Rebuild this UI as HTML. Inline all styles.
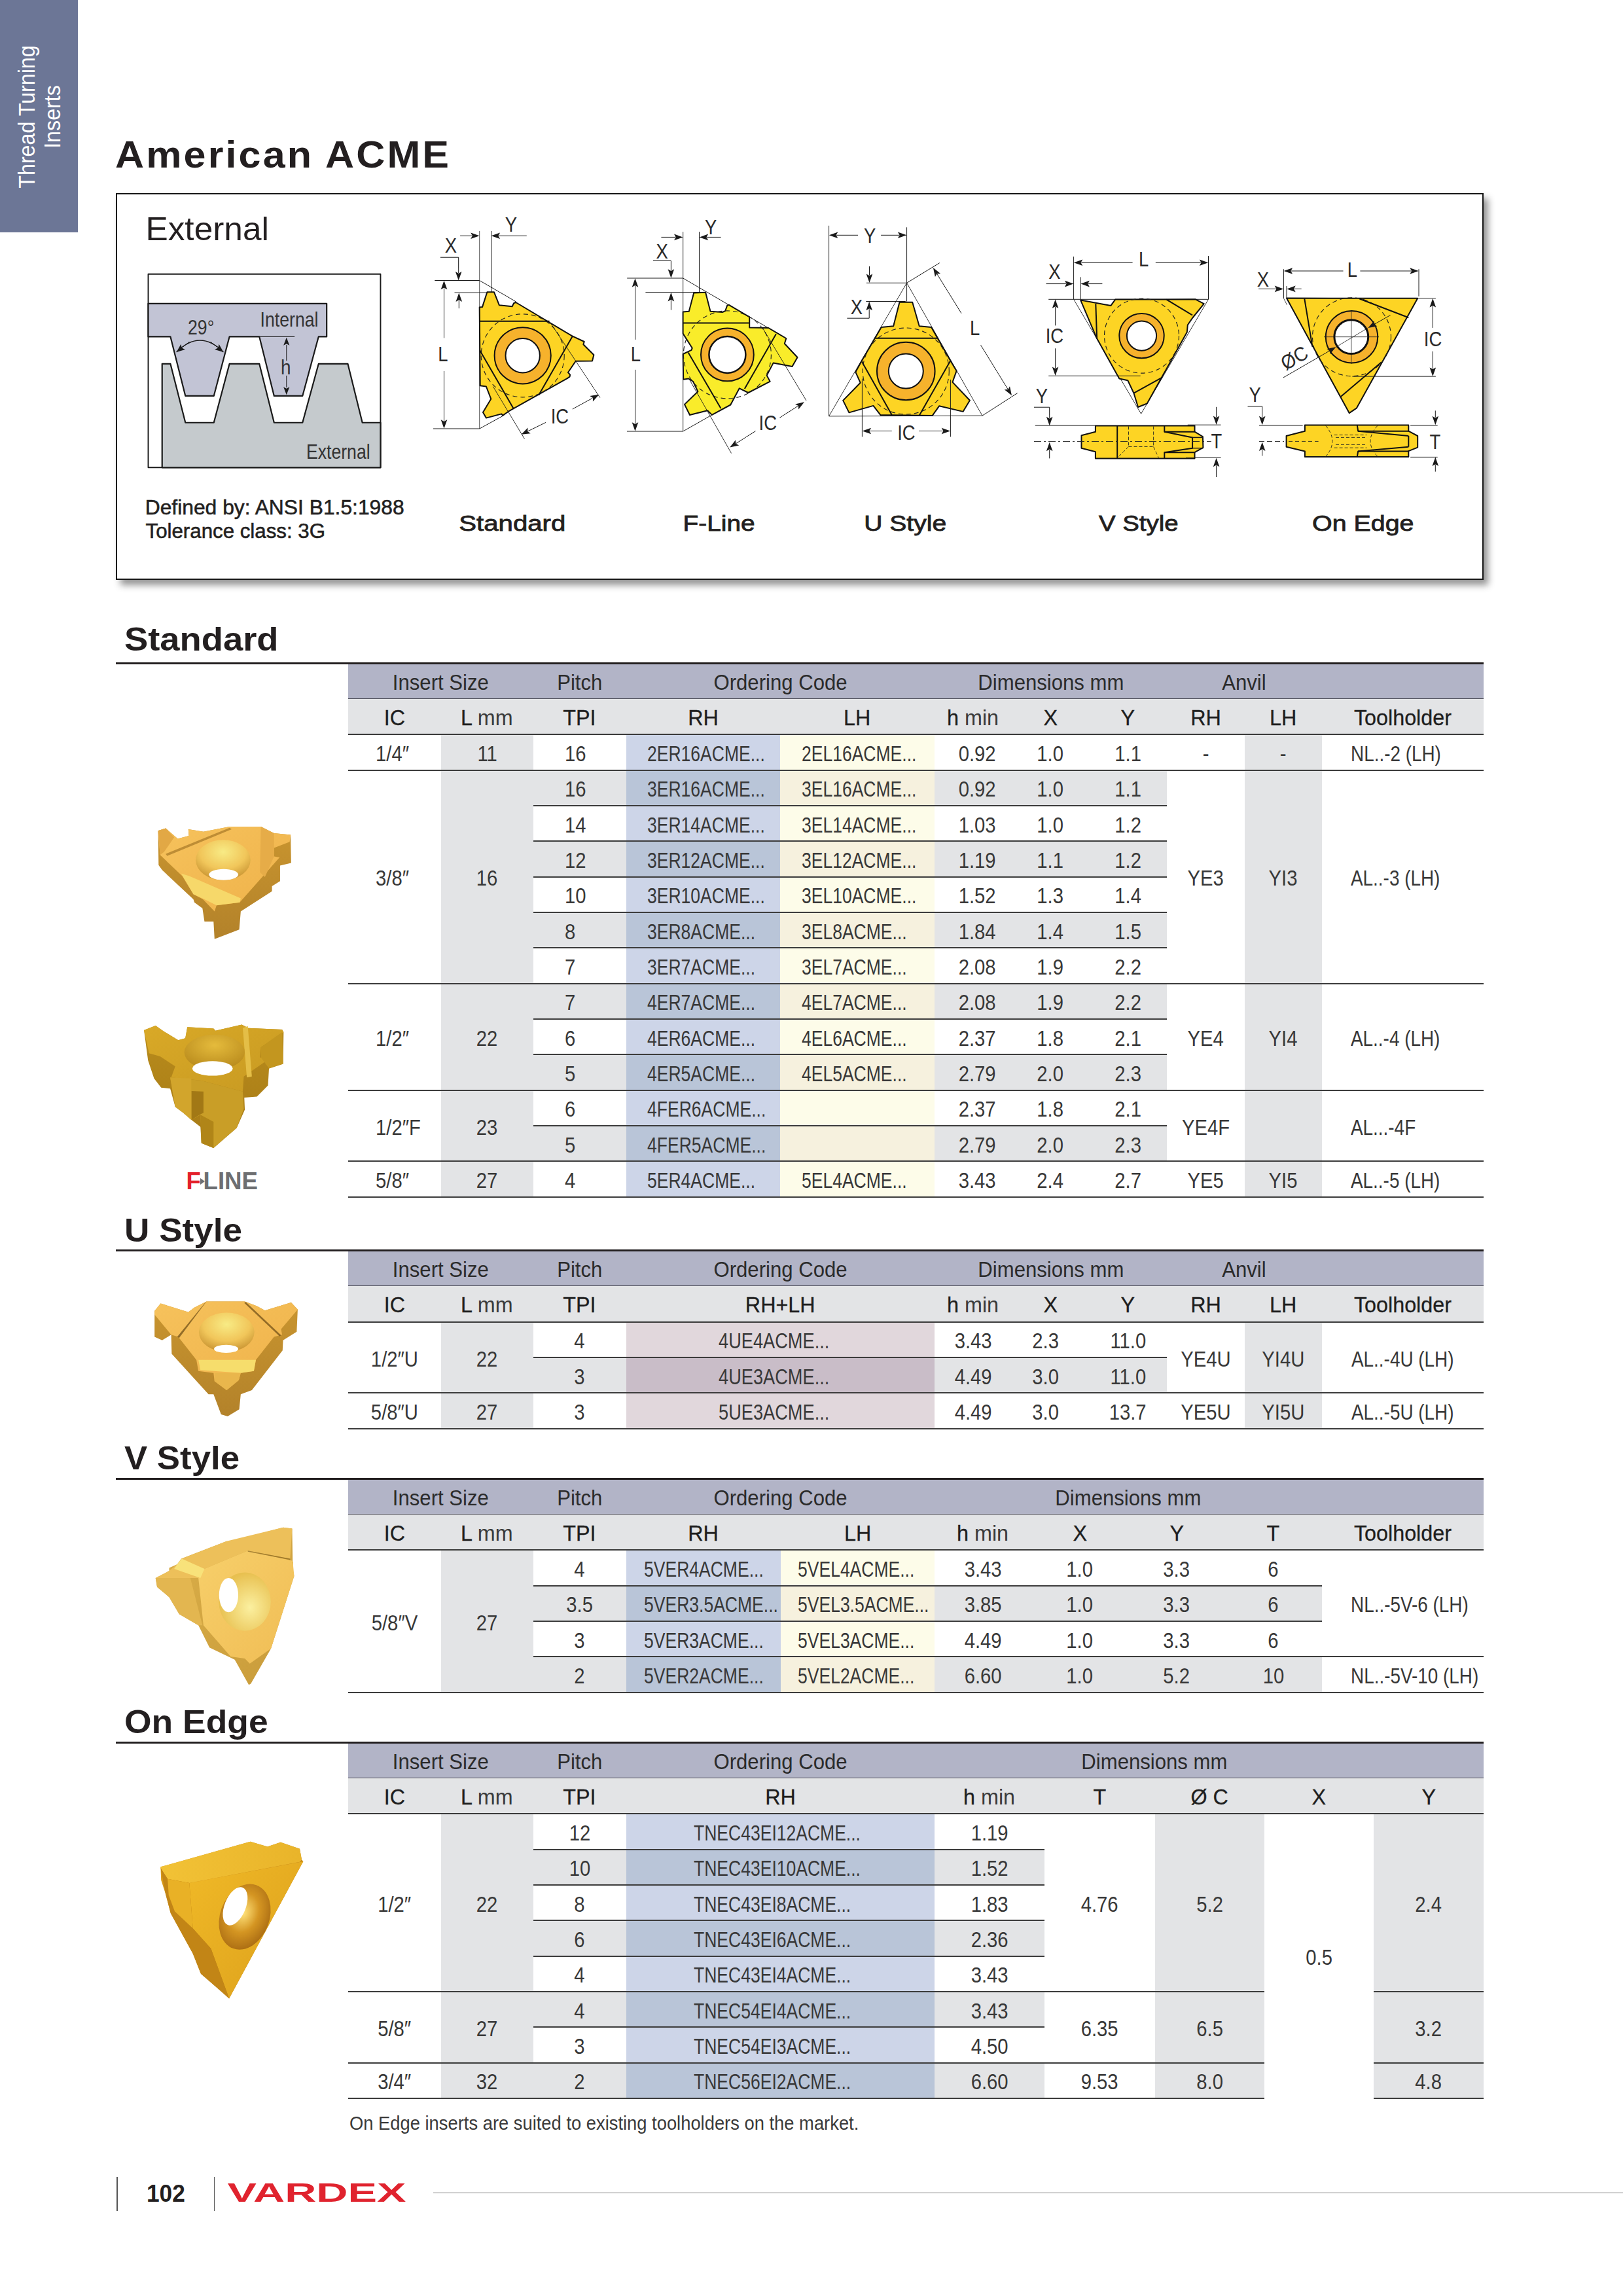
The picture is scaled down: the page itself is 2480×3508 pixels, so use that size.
<!DOCTYPE html><html><head><meta charset="utf-8"><style>
html,body{margin:0;padding:0;background:#fff}
#pg{position:relative;width:2480px;height:3508px;overflow:hidden;background:#fff;font-family:"Liberation Sans",Arial,sans-serif}
.t{position:absolute;white-space:nowrap;line-height:1}
.t span{display:inline-block}
.h2 span{-webkit-text-stroke:0.3px #1e1e1e}
.h2 span span,.h2 span i{-webkit-text-stroke:0;font-style:normal;color:#3a3a3a}
</style></head><body><div id="pg">
<div style="position:absolute;left:0.00px;top:0.00px;width:119.00px;height:355.00px;background:#6c7696"></div>
<div class="t" style="left:0;top:0;width:355px;height:119px;transform:translate(0,355px) rotate(-90deg);transform-origin:0 0;color:#fff;text-align:center;font-size:35px;line-height:38.4px;white-space:normal"><div style="position:absolute;left:-1px;width:355px;top:22.3px;transform:scaleX(0.92)">Thread Turning<br>Inserts</div></div>
<div class="t" style="left:176.4px;top:209.37px;font-size:56.5px;font-weight:700;color:#231f20;letter-spacing:2.9px"><span style="transform:scaleX(1.08);transform-origin:0 50%">American ACME</span></div>
<div style="position:absolute;left:177px;top:295px;width:2086px;height:587px;border:2px solid #161616;box-shadow:7px 8px 10px rgba(0,0,0,0.42);background:#fff"></div>
<svg style="position:absolute;left:0;top:0" width="2480" height="900" viewBox="0 0 2480 900">
<g transform="translate(170,280) scale(0.326552)">
<polygon points="173,425 1260,425 1260,1330 173,1330" fill="#fff" stroke="#1a1a1a" stroke-width="5.82" stroke-linejoin="round"/>
<polygon points="173,563 1008,563 1008,718 970,718 895,995 762,995 693,718 553,718 480,995 347,995 277,718 173,718" fill="#c2c4d5" stroke="#1a1a1a" stroke-width="6.74" stroke-linejoin="round"/>
<polygon points="238,1330 238,845 277,845 347,1120 480,1120 553,845 693,845 762,1120 895,1120 970,845 1107,845 1175,1120 1260,1120 1260,1330" fill="#c5cacd" stroke="#1a1a1a" stroke-width="6.74" stroke-linejoin="round"/>
<text transform="translate(833,670) scale(0.86,1)" x="0" y="0" font-size="94.9" text-anchor="middle" fill="#333" font-weight="400" font-family="Liberation Sans, Arial, sans-serif" >Internal</text>
<text transform="translate(1062,1290) scale(0.86,1)" x="0" y="0" font-size="94.9" text-anchor="middle" fill="#333" font-weight="400" font-family="Liberation Sans, Arial, sans-serif" >External</text>
<text transform="translate(420,707) scale(0.86,1)" x="0" y="0" font-size="94.9" text-anchor="middle" fill="#333" font-weight="400" font-family="Liberation Sans, Arial, sans-serif" >29°</text>
<path d="M305,790 Q415,680 525,790" fill="none" stroke="#1a1a1a" stroke-width="4"/>
<line x1="365" y1="742" x2="334.52457159816004" y2="766.380342721472" stroke="#1a1a1a" stroke-width="3.06"/>
<polygon points="305,790 326.1,752.7 329.9,770.1 346.0,777.6" fill="#1a1a1a"/>
<line x1="465" y1="742" x2="495.47542840183996" y2="766.380342721472" stroke="#1a1a1a" stroke-width="3.06"/>
<polygon points="525,790 484.0,777.6 500.1,770.1 503.9,752.7" fill="#1a1a1a"/>
<line x1="693" y1="718" x2="858" y2="718" stroke="#1a1a1a" stroke-width="3.06"/>
<line x1="820" y1="830" x2="820.0" y2="756.7476" stroke="#1a1a1a" stroke-width="3.06"/>
<polygon points="820,722 834.1,758.7 820.0,751.4 805.9,758.7" fill="#1a1a1a"/>
<line x1="820" y1="900" x2="820.0" y2="955.2524" stroke="#1a1a1a" stroke-width="3.06"/>
<polygon points="820,990 805.9,953.3 820.0,960.6 834.1,953.3" fill="#1a1a1a"/>
<text transform="translate(817,895) scale(0.9,1)" x="0" y="0" font-size="94.9" text-anchor="middle" fill="#333" font-weight="400" font-family="Liberation Sans, Arial, sans-serif" >h</text>
</g>
<g transform="translate(0,0) scale(1.000000)">
<line x1="732.7" y1="352.9" x2="732.7" y2="655" stroke="#555" stroke-width="1.00"/>
<line x1="750.6" y1="352.9" x2="750.6" y2="446.5" stroke="#1a1a1a" stroke-width="1.00"/>
<line x1="703.1" y1="360.3" x2="721.2" y2="360.3" stroke="#1a1a1a" stroke-width="1.00"/>
<polygon points="732.7,360.3 719.2,365.1 721.9,360.3 719.2,355.5" fill="#1a1a1a"/>
<line x1="804.8" y1="360.3" x2="762.1" y2="360.3" stroke="#1a1a1a" stroke-width="1.00"/>
<polygon points="750.6,360.3 764.1,355.5 761.4,360.3 764.1,365.1" fill="#1a1a1a"/>
<text transform="translate(689,385.6) scale(0.9,1)" x="0" y="0" font-size="30.5" text-anchor="middle" fill="#2a2a2a" font-weight="400" font-family="Liberation Sans, Arial, sans-serif" >X</text>
<text transform="translate(781,353.5) scale(0.9,1)" x="0" y="0" font-size="30.5" text-anchor="middle" fill="#2a2a2a" font-weight="400" font-family="Liberation Sans, Arial, sans-serif" >Y</text>
<polyline points="672.9,393.2 700.7,393.2 700.7,410" fill="none" stroke="#111" stroke-width="1.00" stroke-linejoin="round"/>
<line x1="700.7" y1="410" x2="700.7" y2="417.0" stroke="#1a1a1a" stroke-width="1.00"/>
<polygon points="700.7,428.5 695.9,415.0 700.7,417.7 705.5,415.0" fill="#1a1a1a"/>
<line x1="664.3" y1="428.5" x2="732.7" y2="428.5" stroke="#1a1a1a" stroke-width="1.00"/>
<line x1="694.5" y1="447.2" x2="745" y2="447.2" stroke="#1a1a1a" stroke-width="1.00"/>
<line x1="701.3" y1="471.2" x2="701.3" y2="458.9" stroke="#1a1a1a" stroke-width="1.00"/>
<polygon points="701.3,447.4 706.1,460.9 701.3,458.2 696.5,460.9" fill="#1a1a1a"/>
<line x1="678.5" y1="516.4" x2="678.5" y2="440.2" stroke="#1a1a1a" stroke-width="1.00"/>
<polygon points="678.5,428.7 683.3,442.2 678.5,439.5 673.7,442.2" fill="#1a1a1a"/>
<line x1="678.5" y1="567" x2="678.5" y2="643.3" stroke="#1a1a1a" stroke-width="1.00"/>
<polygon points="678.5,654.8 673.7,641.3 678.5,644.0 683.3,641.3" fill="#1a1a1a"/>
<text transform="translate(677,551.8) scale(0.9,1)" x="0" y="0" font-size="30.5" text-anchor="middle" fill="#2a2a2a" font-weight="400" font-family="Liberation Sans, Arial, sans-serif" >L</text>
<line x1="662" y1="655" x2="732.7" y2="655" stroke="#1a1a1a" stroke-width="1.00"/>
<line x1="732.7" y1="428.5" x2="788.5" y2="461" stroke="#1a1a1a" stroke-width="1.00"/>
<line x1="732.7" y1="655" x2="768.2" y2="635.5" stroke="#1a1a1a" stroke-width="1.00"/>
<polygon points="732.7,469.4 737,469.1 744.4,446.2 754.9,446.2 762.9,466.3 782.6,468.2 785.1,463.2 788.2,462 874.8,513.7 892.7,522 891.4,526.3 907.4,542.3 905,551.5 879.7,551.7 868,569 871.1,572.7 870.5,575.7 866.8,578.2 776.8,628.7 768.2,634.9 766.4,632.4 742.9,638.6 738,630 750.3,609.6 742.9,590.5 733.7,589.3" fill="#fdd424" stroke="#111" stroke-width="2.00" stroke-linejoin="round"/>
<circle cx="798.7" cy="543.3" r="63.5" fill="none" stroke="#222" stroke-width="1.15" stroke-dasharray="7 5"/>
<line x1="733" y1="490.8" x2="839.5" y2="490.8" stroke="#111" stroke-width="2.00"/>
<line x1="874.8" y1="513.7" x2="823" y2="604.1" stroke="#111" stroke-width="2.00"/>
<line x1="733.3" y1="535.5" x2="784.8" y2="624.4" stroke="#111" stroke-width="2.00"/>
<circle cx="798.7" cy="543.3" r="43.1" fill="#f6b22c" stroke="#111" stroke-width="2.00"/>
<circle cx="798.7" cy="543.3" r="26.2" fill="#fff" stroke="#111" stroke-width="2.00"/>
<line x1="840.9" y1="493" x2="916.8" y2="607.5" stroke="#1a1a1a" stroke-width="0.90"/>
<line x1="753.4" y1="590.5" x2="801.5" y2="670.6" stroke="#1a1a1a" stroke-width="0.90"/>
<line x1="834.1" y1="645.4" x2="806.8294923035494" y2="658.7451420642205" stroke="#1a1a1a" stroke-width="1.00"/>
<polygon points="796.5,663.8 806.5,653.6 806.2,659.1 810.7,662.2" fill="#1a1a1a"/>
<line x1="874.8" y1="625" x2="905.4042009114846" y2="608.3067995028265" stroke="#1a1a1a" stroke-width="1.00"/>
<polygon points="915.5,602.8 905.9,613.5 906.0,608.0 901.3,605.1" fill="#1a1a1a"/>
<text transform="translate(855.4,646.6) scale(0.9,1)" x="0" y="0" font-size="30.5" text-anchor="middle" fill="#2a2a2a" font-weight="400" font-family="Liberation Sans, Arial, sans-serif" >IC</text>
<g transform="translate(0,0) scale(1.000000)">
<line x1="1043.7" y1="354.2" x2="1043.7" y2="659" stroke="#333" stroke-width="1.00"/>
<line x1="1068.5" y1="354.2" x2="1068.5" y2="446.6" stroke="#1a1a1a" stroke-width="1.00"/>
<line x1="1010.4" y1="362.4" x2="1032.0" y2="362.4" stroke="#1a1a1a" stroke-width="1.00"/>
<polygon points="1043.5,362.4 1030.0,367.2 1032.7,362.4 1030.0,357.6" fill="#1a1a1a"/>
<line x1="1101.6" y1="362.4" x2="1080.2" y2="362.4" stroke="#1a1a1a" stroke-width="1.00"/>
<polygon points="1068.7,362.4 1082.2,357.6 1079.5,362.4 1082.2,367.2" fill="#1a1a1a"/>
<text transform="translate(1011.6,394.8) scale(0.9,1)" x="0" y="0" font-size="30.5" text-anchor="middle" fill="#2a2a2a" font-weight="400" font-family="Liberation Sans, Arial, sans-serif" >X</text>
<text transform="translate(1086.2,357.9) scale(0.9,1)" x="0" y="0" font-size="30.5" text-anchor="middle" fill="#2a2a2a" font-weight="400" font-family="Liberation Sans, Arial, sans-serif" >Y</text>
<polyline points="998,398.5 1025.4,398.5 1025.4,410" fill="none" stroke="#111" stroke-width="1.00" stroke-linejoin="round"/>
<line x1="1025.4" y1="410" x2="1025.4" y2="413.3" stroke="#1a1a1a" stroke-width="1.00"/>
<polygon points="1025.4,424.8 1020.6,411.3 1025.4,414.0 1030.2,411.3" fill="#1a1a1a"/>
<line x1="958.2" y1="425" x2="1043.7" y2="425" stroke="#1a1a1a" stroke-width="1.00"/>
<line x1="986.4" y1="446.6" x2="1078.8" y2="446.6" stroke="#1a1a1a" stroke-width="1.00"/>
<line x1="1025.4" y1="473.7" x2="1025.4" y2="458.5" stroke="#1a1a1a" stroke-width="1.00"/>
<polygon points="1025.4,447 1030.2,460.5 1025.4,457.8 1020.6,460.5" fill="#1a1a1a"/>
<line x1="970.5" y1="518.9" x2="970.5" y2="436.7" stroke="#1a1a1a" stroke-width="1.00"/>
<polygon points="970.5,425.2 975.3,438.7 970.5,436.0 965.7,438.7" fill="#1a1a1a"/>
<line x1="970.5" y1="564.9" x2="970.5" y2="647.3" stroke="#1a1a1a" stroke-width="1.00"/>
<polygon points="970.5,658.8 965.7,645.3 970.5,648.0 975.3,645.3" fill="#1a1a1a"/>
<text transform="translate(971.5,552) scale(0.9,1)" x="0" y="0" font-size="30.5" text-anchor="middle" fill="#2a2a2a" font-weight="400" font-family="Liberation Sans, Arial, sans-serif" >L</text>
<line x1="958" y1="659" x2="1043.7" y2="659" stroke="#1a1a1a" stroke-width="1.00"/>
<line x1="1043.7" y1="425" x2="1201.3" y2="517" stroke="#1a1a1a" stroke-width="1.00"/>
<line x1="1043.7" y1="659" x2="1087.9" y2="633.9" stroke="#1a1a1a" stroke-width="1.00"/>
<polygon points="1043.6,476.4 1052.8,475.7 1060.2,447.4 1078.1,446.8 1085.5,475.7 1103.9,477 1108.2,475.1 1111.3,466.5 1113.8,465.9 1145.2,484.4 1145.2,500.4 1174.2,501 1201.3,517 1198.8,525 1218.5,546 1210.5,560.1 1181.6,554.6 1171.7,573.6 1176.6,582.8 1143.4,600 1129.8,593.3 1116.3,618.5 1087.9,633.9 1081.1,627.2 1054,634 1046,617.9 1066.4,598.2 1059,582.8 1052.2,578.5 1044.2,579.7 1043.6,541 1056.5,534.9 1057.7,531.8 1043.6,509.6" fill="#f9ec2a" stroke="#111" stroke-width="2.00" stroke-linejoin="round"/>
<circle cx="1111.4" cy="541.9" r="67" fill="none" stroke="#222" stroke-width="1.15" stroke-dasharray="7 5"/>
<line x1="1043.6" y1="493.6" x2="1144" y2="493.6" stroke="#111" stroke-width="2.00"/>
<line x1="1185.9" y1="510.2" x2="1137.8" y2="593.9" stroke="#111" stroke-width="2.00"/>
<line x1="1051.6" y1="538.6" x2="1101.5" y2="624.1" stroke="#111" stroke-width="2.00"/>
<circle cx="1111.4" cy="541.9" r="40.4" fill="#f6b22c" stroke="#111" stroke-width="2.00"/>
<circle cx="1111.4" cy="541.9" r="28" fill="#fff" stroke="#111" stroke-width="2.50"/>
<line x1="1165.6" y1="501.6" x2="1232" y2="612" stroke="#1a1a1a" stroke-width="0.90"/>
<line x1="1053.4" y1="579.7" x2="1117.5" y2="692.5" stroke="#1a1a1a" stroke-width="0.90"/>
<line x1="1154.5" y1="658.6" x2="1124.9031236195872" y2="677.4275295040795" stroke="#1a1a1a" stroke-width="1.00"/>
<polygon points="1115.2,683.6 1124.0,672.3 1124.3,677.8 1129.2,680.4" fill="#1a1a1a"/>
<line x1="1191.4" y1="638.2" x2="1219.3063945898577" y2="620.3874077086015" stroke="#1a1a1a" stroke-width="1.00"/>
<polygon points="1229,614.2 1220.2,625.5 1219.9,620.0 1215.0,617.4" fill="#1a1a1a"/>
<text transform="translate(1173.3,656.7) scale(0.9,1)" x="0" y="0" font-size="30.5" text-anchor="middle" fill="#2a2a2a" font-weight="400" font-family="Liberation Sans, Arial, sans-serif" >IC</text>
<g transform="translate(0,0) scale(1.000000)">
<line x1="1266.6" y1="344.8" x2="1266.6" y2="635.9" stroke="#333" stroke-width="1.00"/>
<line x1="1385.6" y1="347.3" x2="1385.6" y2="460.6" stroke="#1a1a1a" stroke-width="1.00"/>
<line x1="1311" y1="359.3" x2="1278.3" y2="359.3" stroke="#1a1a1a" stroke-width="1.00"/>
<polygon points="1266.8,359.3 1280.3,354.5 1277.6,359.3 1280.3,364.1" fill="#1a1a1a"/>
<line x1="1346.1" y1="359.3" x2="1373.9" y2="359.3" stroke="#1a1a1a" stroke-width="1.00"/>
<polygon points="1385.4,359.3 1371.9,364.1 1374.6,359.3 1371.9,354.5" fill="#1a1a1a"/>
<text transform="translate(1329.2,370.7) scale(0.9,1)" x="0" y="0" font-size="30.5" text-anchor="middle" fill="#2a2a2a" font-weight="400" font-family="Liberation Sans, Arial, sans-serif" >Y</text>
<polygon points="1266.6,635.9 1385.6,432.3 1501,635.1" fill="none" stroke="#333" stroke-width="1.00" stroke-linejoin="round"/>
<line x1="1323.9" y1="432.3" x2="1385.6" y2="432.3" stroke="#1a1a1a" stroke-width="1.00"/>
<line x1="1328.5" y1="407" x2="1328.5" y2="420.6" stroke="#1a1a1a" stroke-width="1.00"/>
<polygon points="1328.5,432.1 1323.7,418.6 1328.5,421.3 1333.3,418.6" fill="#1a1a1a"/>
<line x1="1323.3" y1="460.5" x2="1383.7" y2="460.5" stroke="#1a1a1a" stroke-width="1.00"/>
<polyline points="1294.4,486.2 1328.2,486.2 1328.2,476" fill="none" stroke="#111" stroke-width="1.00" stroke-linejoin="round"/>
<line x1="1328.2" y1="476" x2="1328.2" y2="472.3" stroke="#1a1a1a" stroke-width="1.00"/>
<polygon points="1328.2,460.8 1333.0,474.3 1328.2,471.6 1323.4,474.3" fill="#1a1a1a"/>
<text transform="translate(1308.8,479.7) scale(0.9,1)" x="0" y="0" font-size="30.5" text-anchor="middle" fill="#2a2a2a" font-weight="400" font-family="Liberation Sans, Arial, sans-serif" >X</text>
<line x1="1385.6" y1="432.3" x2="1435.7" y2="401.7" stroke="#1a1a1a" stroke-width="1.00"/>
<line x1="1501" y1="635.1" x2="1554.7" y2="600.6" stroke="#1a1a1a" stroke-width="1.00"/>
<line x1="1469" y1="478.7" x2="1431.9545288223308" y2="418.87715095207017" stroke="#1a1a1a" stroke-width="1.00"/>
<polygon points="1425.9,409.1 1437.1,418.1 1431.6,418.3 1428.9,423.1" fill="#1a1a1a"/>
<line x1="1498.6" y1="527.3" x2="1539.9714604433104" y2="594.5068028298502" stroke="#1a1a1a" stroke-width="1.00"/>
<polygon points="1546,604.3 1534.8,595.3 1540.3,595.1 1543.0,590.3" fill="#1a1a1a"/>
<text transform="translate(1489.7,512) scale(0.9,1)" x="0" y="0" font-size="30.5" text-anchor="middle" fill="#2a2a2a" font-weight="400" font-family="Liberation Sans, Arial, sans-serif" >L</text>
<polygon points="1374.5,461.8 1394.2,461.8 1404.7,498.2 1423.1,500 1452.7,551.8 1461.6,566.7 1455.5,583.9 1481.9,611.7 1471.5,628.9 1435.1,620.3 1424.6,635.1 1345.5,634.1 1334.4,619.9 1297.4,630.4 1288.2,611.9 1314.7,584.8 1307.3,568.4 1316.5,551.8 1346.7,500 1365.2,498.2" fill="#fdd424" stroke="#111" stroke-width="2.00" stroke-linejoin="round"/>
<circle cx="1384.3" cy="567" r="66" fill="none" stroke="#222" stroke-width="1.15" stroke-dasharray="7 5"/>
<line x1="1337.5" y1="516.7" x2="1432.4" y2="516.7" stroke="#111" stroke-width="2.00"/>
<line x1="1316.5" y1="551.8" x2="1362.8" y2="634.1" stroke="#111" stroke-width="2.00"/>
<line x1="1451.8" y1="551.9" x2="1404.9" y2="634.5" stroke="#111" stroke-width="2.00"/>
<circle cx="1384.3" cy="567" r="44.3" fill="#f6b22c" stroke="#111" stroke-width="2.00"/>
<circle cx="1384.3" cy="567" r="26.5" fill="#fff" stroke="#111" stroke-width="2.00"/>
<line x1="1317.4" y1="578.6" x2="1317.4" y2="667.4" stroke="#1a1a1a" stroke-width="1.00"/>
<line x1="1452.4" y1="580" x2="1452.4" y2="667.4" stroke="#1a1a1a" stroke-width="1.00"/>
<line x1="1362.8" y1="658.5" x2="1329.1" y2="658.5" stroke="#1a1a1a" stroke-width="1.00"/>
<polygon points="1317.6,658.5 1331.1,653.7 1328.4,658.5 1331.1,663.3" fill="#1a1a1a"/>
<line x1="1404" y1="658.5" x2="1440.7" y2="658.5" stroke="#1a1a1a" stroke-width="1.00"/>
<polygon points="1452.2,658.5 1438.7,663.3 1441.4,658.5 1438.7,653.7" fill="#1a1a1a"/>
<text transform="translate(1384.9,671.7) scale(0.9,1)" x="0" y="0" font-size="30.5" text-anchor="middle" fill="#2a2a2a" font-weight="400" font-family="Liberation Sans, Arial, sans-serif" >IC</text>
<g transform="translate(0,0) scale(1.000000)">
<line x1="1640.6" y1="392" x2="1640.6" y2="457.3" stroke="#1a1a1a" stroke-width="1.00"/>
<line x1="1651.2" y1="423.4" x2="1651.2" y2="457.3" stroke="#1a1a1a" stroke-width="1.00"/>
<line x1="1846.5" y1="391.1" x2="1846.5" y2="457.3" stroke="#1a1a1a" stroke-width="1.00"/>
<line x1="1730.6" y1="401.3" x2="1652.3" y2="401.3" stroke="#1a1a1a" stroke-width="1.00"/>
<polygon points="1640.8,401.3 1654.3,396.5 1651.6,401.3 1654.3,406.1" fill="#1a1a1a"/>
<line x1="1765.8" y1="401.3" x2="1834.8" y2="401.3" stroke="#1a1a1a" stroke-width="1.00"/>
<polygon points="1846.3,401.3 1832.8,406.1 1835.5,401.3 1832.8,396.5" fill="#1a1a1a"/>
<text transform="translate(1747.7,406.8) scale(0.9,1)" x="0" y="0" font-size="30.5" text-anchor="middle" fill="#2a2a2a" font-weight="400" font-family="Liberation Sans, Arial, sans-serif" >L</text>
<line x1="1598.5" y1="433.6" x2="1628.9" y2="433.6" stroke="#1a1a1a" stroke-width="1.00"/>
<polygon points="1640.4,433.6 1626.9,438.4 1629.6,433.6 1626.9,428.8" fill="#1a1a1a"/>
<line x1="1684.4" y1="433.6" x2="1662.9" y2="433.6" stroke="#1a1a1a" stroke-width="1.00"/>
<polygon points="1651.4,433.6 1664.9,428.8 1662.2,433.6 1664.9,438.4" fill="#1a1a1a"/>
<text transform="translate(1611.4,426.2) scale(0.9,1)" x="0" y="0" font-size="30.5" text-anchor="middle" fill="#2a2a2a" font-weight="400" font-family="Liberation Sans, Arial, sans-serif" >X</text>
<line x1="1602.2" y1="457.3" x2="1846.5" y2="457.3" stroke="#1a1a1a" stroke-width="1.00"/>
<polyline points="1640.6,457.3 1743.6,632.2 1846.5,457.3" fill="none" stroke="#333" stroke-width="1.00" stroke-linejoin="round"/>
<polygon points="1651.2,458.6 1697.4,466.9 1704.2,457.6 1826.8,457.3 1839.7,464.1 1822,486 1814.8,496.5 1813.8,507.5 1752.8,616.5 1739,622 1732.5,600.7 1723.3,581.3 1710.3,578.6 1675.5,516" fill="#fdd424" stroke="#111" stroke-width="2.00" stroke-linejoin="round"/>
<circle cx="1744.5" cy="513.1" r="57" fill="none" stroke="#222" stroke-width="1.15" stroke-dasharray="7 5"/>
<line x1="1674.3" y1="464.1" x2="1676.1" y2="516.8" stroke="#111" stroke-width="2.00"/>
<line x1="1782.4" y1="457.6" x2="1822.1" y2="481.7" stroke="#111" stroke-width="2.00"/>
<line x1="1732.5" y1="600.7" x2="1775.9" y2="576.7" stroke="#111" stroke-width="2.00"/>
<circle cx="1744.5" cy="513.1" r="34.2" fill="#f6b22c" stroke="#111" stroke-width="2.00"/>
<circle cx="1744.5" cy="513.1" r="22.6" fill="#fff" stroke="#111" stroke-width="2.00"/>
<line x1="1602.2" y1="574.3" x2="1742.7" y2="574.3" stroke="#1a1a1a" stroke-width="1.00"/>
<line x1="1612.6" y1="497.4" x2="1612.6" y2="469.0" stroke="#1a1a1a" stroke-width="1.00"/>
<polygon points="1612.6,457.5 1617.4,471.0 1612.6,468.3 1607.8,471.0" fill="#1a1a1a"/>
<line x1="1612.6" y1="532.3" x2="1612.6" y2="562.6" stroke="#1a1a1a" stroke-width="1.00"/>
<polygon points="1612.6,574.1 1607.8,560.6 1612.6,563.3 1617.4,560.6" fill="#1a1a1a"/>
<text transform="translate(1611.4,524) scale(0.9,1)" x="0" y="0" font-size="30.5" text-anchor="middle" fill="#2a2a2a" font-weight="400" font-family="Liberation Sans, Arial, sans-serif" >IC</text>
<polygon points="1673.9,650.5 1825.5,650.5 1825.5,659.7 1837.9,667.1 1838.4,683.8 1825.5,691.2 1825.5,700.4 1673.9,700.4 1673.9,690.2 1652.5,684.7 1652.5,665.3 1673.9,659.7" fill="#fdd424" stroke="#111" stroke-width="2.00" stroke-linejoin="round"/>
<line x1="1707.2" y1="650.5" x2="1707.2" y2="700.4" stroke="#111" stroke-width="2.00"/>
<polyline points="1779.3,650.5 1779.3,659.7 1825.5,659.7" fill="none" stroke="#111" stroke-width="2.00" stroke-linejoin="round"/>
<polyline points="1779.3,700.4 1779.3,691.2 1825.5,691.2" fill="none" stroke="#111" stroke-width="2.00" stroke-linejoin="round"/>
<polyline points="1779.3,659.7 1822.1,668.4 1822.1,684.7 1779.3,691.2" fill="none" stroke="#111" stroke-width="2.00" stroke-linejoin="round"/>
<line x1="1822.1" y1="668.4" x2="1837.9" y2="668.4" stroke="#1a1a1a" stroke-width="1.50"/>
<line x1="1822.1" y1="684.7" x2="1838.4" y2="684.7" stroke="#1a1a1a" stroke-width="1.50"/>
<line x1="1580" y1="674.5" x2="1850.8" y2="674.5" stroke="#222" stroke-width="0.90" stroke-dasharray="11 4 3 4"/>
<line x1="1724.5" y1="651.4" x2="1724.5" y2="681.9" stroke="#222" stroke-width="0.90" stroke-dasharray="5 3"/>
<line x1="1762.6" y1="651.4" x2="1762.6" y2="681.9" stroke="#222" stroke-width="0.90" stroke-dasharray="5 3"/>
<line x1="1724.5" y1="682.5" x2="1762.6" y2="682.5" stroke="#222" stroke-width="0.90" stroke-dasharray="5 3"/>
<line x1="1724.5" y1="682.5" x2="1707.5" y2="699.5" stroke="#222" stroke-width="0.90" stroke-dasharray="5 3"/>
<line x1="1762.6" y1="682.5" x2="1770.4" y2="699.5" stroke="#222" stroke-width="0.90" stroke-dasharray="5 3"/>
<line x1="1581.8" y1="650.1" x2="1673.9" y2="650.1" stroke="#1a1a1a" stroke-width="1.00"/>
<polyline points="1580,622.2 1603.7,622.2 1603.7,634" fill="none" stroke="#111" stroke-width="1.00" stroke-linejoin="round"/>
<line x1="1603.7" y1="634" x2="1603.7" y2="638.8" stroke="#1a1a1a" stroke-width="1.00"/>
<polygon points="1603.7,650.3 1598.9,636.8 1603.7,639.5 1608.5,636.8" fill="#1a1a1a"/>
<line x1="1603.7" y1="700.4" x2="1603.7" y2="687.2" stroke="#1a1a1a" stroke-width="1.00"/>
<polygon points="1603.7,675.7 1608.5,689.2 1603.7,686.5 1598.9,689.2" fill="#1a1a1a"/>
<text transform="translate(1592,615.5) scale(0.9,1)" x="0" y="0" font-size="30.5" text-anchor="middle" fill="#2a2a2a" font-weight="400" font-family="Liberation Sans, Arial, sans-serif" >Y</text>
<line x1="1814.8" y1="649.2" x2="1865.6" y2="649.2" stroke="#1a1a1a" stroke-width="1.00"/>
<line x1="1812" y1="699.5" x2="1865.6" y2="699.5" stroke="#1a1a1a" stroke-width="1.00"/>
<line x1="1858.6" y1="621.8" x2="1858.6" y2="637.5" stroke="#1a1a1a" stroke-width="1.00"/>
<polygon points="1858.6,649 1853.8,635.5 1858.6,638.2 1863.4,635.5" fill="#1a1a1a"/>
<line x1="1858.6" y1="729" x2="1858.6" y2="711.2" stroke="#1a1a1a" stroke-width="1.00"/>
<polygon points="1858.6,699.7 1863.4,713.2 1858.6,710.5 1853.8,713.2" fill="#1a1a1a"/>
<text transform="translate(1859,684.7) scale(0.9,1)" x="0" y="0" font-size="30.5" text-anchor="middle" fill="#2a2a2a" font-weight="400" font-family="Liberation Sans, Arial, sans-serif" >T</text>
<g transform="translate(0,0) scale(1.000000)">
<line x1="1961.4" y1="411.3" x2="1961.4" y2="455.6" stroke="#1a1a1a" stroke-width="1.00"/>
<line x1="1966" y1="437.1" x2="1966" y2="455.6" stroke="#1a1a1a" stroke-width="1.00"/>
<line x1="2168" y1="411.3" x2="2168" y2="452.8" stroke="#1a1a1a" stroke-width="1.00"/>
<line x1="2052.5" y1="414" x2="1973.1" y2="414.0" stroke="#1a1a1a" stroke-width="1.00"/>
<polygon points="1961.6,414 1975.1,409.2 1972.4,414.0 1975.1,418.8" fill="#1a1a1a"/>
<line x1="2078.4" y1="414" x2="2156.3" y2="414.0" stroke="#1a1a1a" stroke-width="1.00"/>
<polygon points="2167.8,414 2154.3,418.8 2157.0,414.0 2154.3,409.2" fill="#1a1a1a"/>
<text transform="translate(2066.4,423.3) scale(0.9,1)" x="0" y="0" font-size="30.5" text-anchor="middle" fill="#2a2a2a" font-weight="400" font-family="Liberation Sans, Arial, sans-serif" >L</text>
<line x1="1923.1" y1="441.4" x2="1949.7" y2="441.4" stroke="#1a1a1a" stroke-width="1.00"/>
<polygon points="1961.2,441.4 1947.7,446.2 1950.4,441.4 1947.7,436.6" fill="#1a1a1a"/>
<line x1="1988.7" y1="441.4" x2="1977.7" y2="441.4" stroke="#1a1a1a" stroke-width="1.00"/>
<polygon points="1966.2,441.4 1979.7,436.6 1977.0,441.4 1979.7,446.2" fill="#1a1a1a"/>
<text transform="translate(1930,437.7) scale(0.9,1)" x="0" y="0" font-size="30.5" text-anchor="middle" fill="#2a2a2a" font-weight="400" font-family="Liberation Sans, Arial, sans-serif" >X</text>
<line x1="2164.3" y1="455.6" x2="2193.9" y2="455.6" stroke="#1a1a1a" stroke-width="1.00"/>
<line x1="1961.4" y1="455.6" x2="1966.5" y2="465.8" stroke="#1a1a1a" stroke-width="0.80"/>
<polygon points="1966,455.6 2166.2,455.8 2072.8,623.7 2061.7,631.1" fill="#fdd424" stroke="#111" stroke-width="2.00" stroke-linejoin="round"/>
<circle cx="2065.5" cy="514.7" r="60" fill="none" stroke="#222" stroke-width="1.15" stroke-dasharray="7 5"/>
<line x1="1993.3" y1="456.5" x2="2005.4" y2="529.6" stroke="#111" stroke-width="2.00"/>
<line x1="2077.4" y1="456.5" x2="2152.3" y2="485.2" stroke="#111" stroke-width="2.00"/>
<line x1="2048.8" y1="606.1" x2="2110.7" y2="553.4" stroke="#111" stroke-width="2.00"/>
<circle cx="2065.5" cy="514.7" r="39.7" fill="#f6b22c" stroke="#111" stroke-width="2.00"/>
<circle cx="2064.8" cy="514.7" r="25.9" fill="#fff" stroke="#111" stroke-width="3.00"/>
<line x1="2064.8" y1="474" x2="2064.8" y2="556" stroke="#1a1a1a" stroke-width="0.80"/>
<line x1="2023" y1="514.7" x2="2107" y2="514.7" stroke="#1a1a1a" stroke-width="0.80"/>
<line x1="2124.6" y1="481.5" x2="2100.4027450954086" y2="495.22592822073295" stroke="#1a1a1a" stroke-width="1.00"/>
<polygon points="2090.4,500.9 2099.8,490.1 2099.8,495.6 2104.5,498.4" fill="#1a1a1a"/>
<line x1="1961" y1="576.9" x2="2031.4504231044261" y2="536.0667945688277" stroke="#1a1a1a" stroke-width="1.00"/>
<polygon points="2041.4,530.3 2032.1,541.2 2032.1,535.7 2027.3,532.9" fill="#1a1a1a"/>
<line x1="2041.4" y1="530.3" x2="2090.4" y2="500.9" stroke="#1a1a1a" stroke-width="0.80"/>
<text transform="translate(1983,556) rotate(-30) scale(0.92,1)" x="0" y="0" font-size="30.5" text-anchor="middle" fill="#2a2a2a" font-family="Liberation Sans, Arial, sans-serif">ØC</text>
<line x1="2066.4" y1="575.1" x2="2193.9" y2="575.1" stroke="#1a1a1a" stroke-width="1.00"/>
<line x1="2189.3" y1="500.9" x2="2189.3" y2="467.6" stroke="#1a1a1a" stroke-width="1.00"/>
<polygon points="2189.3,456.1 2194.1,469.6 2189.3,466.9 2184.5,469.6" fill="#1a1a1a"/>
<line x1="2189.3" y1="536.8" x2="2189.3" y2="563.4" stroke="#1a1a1a" stroke-width="1.00"/>
<polygon points="2189.3,574.9 2184.5,561.4 2189.3,564.1 2194.1,561.4" fill="#1a1a1a"/>
<text transform="translate(2189.5,528.5) scale(0.9,1)" x="0" y="0" font-size="30.5" text-anchor="middle" fill="#2a2a2a" font-weight="400" font-family="Liberation Sans, Arial, sans-serif" >IC</text>
<polygon points="1993.9,649.4 2152.3,649.4 2152.3,658.7 2166.2,666 2166.2,683.6 2152.3,689.1 2152.3,698 1993.9,698 1993.9,689.5 1965.6,682.7 1965.6,666 1993.9,658.7" fill="#fdd424" stroke="#111" stroke-width="2.00" stroke-linejoin="round"/>
<polyline points="2073.8,649.4 2075.2,658.7 2152.3,658.7" fill="none" stroke="#111" stroke-width="2.00" stroke-linejoin="round"/>
<polyline points="2073.8,698 2075.2,689.5 2152.3,689.5" fill="none" stroke="#111" stroke-width="2.00" stroke-linejoin="round"/>
<line x1="2075.2" y1="658.7" x2="2152.3" y2="666" stroke="#111" stroke-width="2.00"/>
<line x1="2075.2" y1="689.5" x2="2152.3" y2="682.7" stroke="#111" stroke-width="2.00"/>
<line x1="2152.3" y1="666" x2="2152.3" y2="682.7" stroke="#111" stroke-width="2.00"/>
<line x1="1969" y1="674.4" x2="2014.6" y2="674.4" stroke="#222" stroke-width="0.90" stroke-dasharray="6 4"/>
<line x1="2038.6" y1="664.6" x2="2088.5" y2="664.6" stroke="#222" stroke-width="0.90" stroke-dasharray="5 3"/>
<line x1="2038.6" y1="684.2" x2="2088.5" y2="684.2" stroke="#222" stroke-width="0.90" stroke-dasharray="5 3"/>
<line x1="2041" y1="668.4" x2="2087" y2="668.4" stroke="#222" stroke-width="0.90" stroke-dasharray="5 3"/>
<line x1="2041" y1="679.5" x2="2087" y2="679.5" stroke="#222" stroke-width="0.90" stroke-dasharray="5 3"/>
<path d="M2025.7,650.3 Q2046,674.4 2025.7,697.5" fill="none" stroke="#222" stroke-width="0.9" stroke-dasharray="5 3"/>
<path d="M2105,650.3 Q2083,674.4 2105,697.5" fill="none" stroke="#222" stroke-width="0.9" stroke-dasharray="5 3"/>
<line x1="1924" y1="650" x2="1990.6" y2="650" stroke="#1a1a1a" stroke-width="1.00"/>
<polyline points="1906.5,620.9 1928.7,620.9 1928.7,632" fill="none" stroke="#111" stroke-width="1.00" stroke-linejoin="round"/>
<line x1="1928.7" y1="632" x2="1928.7" y2="637.7" stroke="#1a1a1a" stroke-width="1.00"/>
<polygon points="1928.7,649.2 1923.9,635.7 1928.7,638.4 1933.5,635.7" fill="#1a1a1a"/>
<line x1="1924" y1="674.4" x2="1962" y2="674.4" stroke="#222" stroke-width="1.00" stroke-dasharray="8 4"/>
<line x1="1928.7" y1="696.5" x2="1928.7" y2="687.0" stroke="#1a1a1a" stroke-width="1.00"/>
<polygon points="1928.7,675.5 1933.5,689.0 1928.7,686.3 1923.9,689.0" fill="#1a1a1a"/>
<text transform="translate(1917.6,613.5) scale(0.9,1)" x="0" y="0" font-size="30.5" text-anchor="middle" fill="#2a2a2a" font-weight="400" font-family="Liberation Sans, Arial, sans-serif" >Y</text>
<line x1="2155.1" y1="650" x2="2196.7" y2="650" stroke="#1a1a1a" stroke-width="1.00"/>
<line x1="2155.1" y1="698.4" x2="2196.7" y2="698.4" stroke="#1a1a1a" stroke-width="1.00"/>
<line x1="2193.3" y1="627.4" x2="2193.3" y2="637.7" stroke="#1a1a1a" stroke-width="1.00"/>
<polygon points="2193.3,649.2 2188.5,635.7 2193.3,638.4 2198.1,635.7" fill="#1a1a1a"/>
<line x1="2193.3" y1="720.6" x2="2193.3" y2="710.1" stroke="#1a1a1a" stroke-width="1.00"/>
<polygon points="2193.3,698.6 2198.1,712.1 2193.3,709.4 2188.5,712.1" fill="#1a1a1a"/>
<text transform="translate(2193,685.5) scale(0.9,1)" x="0" y="0" font-size="30.5" text-anchor="middle" fill="#2a2a2a" font-weight="400" font-family="Liberation Sans, Arial, sans-serif" >T</text>
<text x="222.4" y="367" font-size="49.4" font-weight="400" fill="#231f20" textLength="188.5" lengthAdjust="spacingAndGlyphs" font-family="Liberation Sans, Arial, sans-serif">External</text>
<text x="221.7" y="785.9" font-size="31.3" font-weight="400" fill="#231f20" textLength="396" lengthAdjust="spacingAndGlyphs" stroke="#231f20" stroke-width="0.55" paint-order="stroke" font-family="Liberation Sans, Arial, sans-serif">Defined by: ANSI B1.5:1988</text>
<text x="222.5" y="822" font-size="31.3" font-weight="400" fill="#231f20" textLength="274.5" lengthAdjust="spacingAndGlyphs" stroke="#231f20" stroke-width="0.55" paint-order="stroke" font-family="Liberation Sans, Arial, sans-serif">Tolerance class: 3G</text>
<text x="701.3" y="811" font-size="33" font-weight="400" fill="#231f20" textLength="163" lengthAdjust="spacingAndGlyphs" stroke="#231f20" stroke-width="0.8" paint-order="stroke" font-family="Liberation Sans, Arial, sans-serif">Standard</text>
<text x="1043.6" y="811" font-size="33" font-weight="400" fill="#231f20" textLength="110" lengthAdjust="spacingAndGlyphs" stroke="#231f20" stroke-width="0.8" paint-order="stroke" font-family="Liberation Sans, Arial, sans-serif">F-Line</text>
<text x="1320.2" y="811" font-size="33" font-weight="400" fill="#231f20" textLength="126" lengthAdjust="spacingAndGlyphs" stroke="#231f20" stroke-width="0.8" paint-order="stroke" font-family="Liberation Sans, Arial, sans-serif">U Style</text>
<text x="1679" y="811" font-size="33" font-weight="400" fill="#231f20" textLength="121.5" lengthAdjust="spacingAndGlyphs" stroke="#231f20" stroke-width="0.8" paint-order="stroke" font-family="Liberation Sans, Arial, sans-serif">V Style</text>
<text x="2005" y="811" font-size="33" font-weight="400" fill="#231f20" textLength="155.5" lengthAdjust="spacingAndGlyphs" stroke="#231f20" stroke-width="0.8" paint-order="stroke" font-family="Liberation Sans, Arial, sans-serif">On Edge</text>
</svg>
<div class="t" style="left:189.5px;top:952.45px;font-size:50.5px;font-weight:700;color:#231f20;letter-spacing:0px"><span style="transform:scaleX(1.076);transform-origin:0 50%">Standard</span></div>
<div style="position:absolute;left:177.00px;top:1012.00px;width:2090.00px;height:3.2px;background:#231f20"></div>
<div style="position:absolute;left:532.00px;top:1014.80px;width:1735.00px;height:52.85px;background:#b2b4c7"></div>
<div style="position:absolute;left:532.00px;top:1067.65px;width:1735.00px;height:54.35px;background:#e3e4e6"></div>
<div class="t" style="left:532.00px;top:1024.72px;width:282.50px;text-align:center;font-size:34px;color:#2b2b2b;font-weight:400"><span style="transform:scaleX(0.915);transform-origin:50% 50%">Insert Size</span></div>
<div class="t" style="left:814.50px;top:1024.72px;width:142.50px;text-align:center;font-size:34px;color:#2b2b2b;font-weight:400"><span style="transform:scaleX(0.915);transform-origin:50% 50%">Pitch</span></div>
<div class="t" style="left:957.00px;top:1024.72px;width:471.00px;text-align:center;font-size:34px;color:#2b2b2b;font-weight:400"><span style="transform:scaleX(0.915);transform-origin:50% 50%">Ordering Code</span></div>
<div class="t" style="left:1428.00px;top:1024.72px;width:355.00px;text-align:center;font-size:34px;color:#2b2b2b;font-weight:400"><span style="transform:scaleX(0.915);transform-origin:50% 50%">Dimensions mm</span></div>
<div class="t" style="left:1783.00px;top:1024.72px;width:236.50px;text-align:center;font-size:34px;color:#2b2b2b;font-weight:400"><span style="transform:scaleX(0.915);transform-origin:50% 50%">Anvil</span></div>
<div class="t h2" style="left:532.00px;top:1079.07px;width:142.00px;text-align:center;font-size:34px;color:#1e1e1e;font-weight:400"><span style="transform:scaleX(0.95);transform-origin:50% 50%">IC</span></div>
<div class="t h2" style="left:674.00px;top:1079.07px;width:140.50px;text-align:center;font-size:34px;color:#1e1e1e;font-weight:400"><span style="transform:scaleX(0.95);transform-origin:50% 50%">L <i>mm</i></span></div>
<div class="t h2" style="left:814.50px;top:1079.07px;width:142.50px;text-align:center;font-size:34px;color:#1e1e1e;font-weight:400"><span style="transform:scaleX(0.95);transform-origin:50% 50%">TPI</span></div>
<div class="t h2" style="left:957.00px;top:1079.07px;width:235.00px;text-align:center;font-size:34px;color:#1e1e1e;font-weight:400"><span style="transform:scaleX(0.95);transform-origin:50% 50%">RH</span></div>
<div class="t h2" style="left:1192.00px;top:1079.07px;width:236.00px;text-align:center;font-size:34px;color:#1e1e1e;font-weight:400"><span style="transform:scaleX(0.95);transform-origin:50% 50%">LH</span></div>
<div class="t h2" style="left:1428.00px;top:1079.07px;width:118.00px;text-align:center;font-size:34px;color:#1e1e1e;font-weight:400"><span style="transform:scaleX(0.95);transform-origin:50% 50%">h <i>min</i></span></div>
<div class="t h2" style="left:1546.00px;top:1079.07px;width:118.00px;text-align:center;font-size:34px;color:#1e1e1e;font-weight:400"><span style="transform:scaleX(0.95);transform-origin:50% 50%">X</span></div>
<div class="t h2" style="left:1664.00px;top:1079.07px;width:119.00px;text-align:center;font-size:34px;color:#1e1e1e;font-weight:400"><span style="transform:scaleX(0.95);transform-origin:50% 50%">Y</span></div>
<div class="t h2" style="left:1783.00px;top:1079.07px;width:119.00px;text-align:center;font-size:34px;color:#1e1e1e;font-weight:400"><span style="transform:scaleX(0.95);transform-origin:50% 50%">RH</span></div>
<div class="t h2" style="left:1902.00px;top:1079.07px;width:117.50px;text-align:center;font-size:34px;color:#1e1e1e;font-weight:400"><span style="transform:scaleX(0.95);transform-origin:50% 50%">LH</span></div>
<div class="t h2" style="left:2019.50px;top:1079.07px;width:247.50px;text-align:center;font-size:34px;color:#1e1e1e;font-weight:400"><span style="transform:scaleX(0.95);transform-origin:50% 50%">Toolholder</span></div>
<div style="position:absolute;left:674.00px;top:1122.00px;width:140.50px;height:706.55px;background:#e3e4e6"></div>
<div style="position:absolute;left:1902.00px;top:1122.00px;width:117.50px;height:706.55px;background:#e3e4e6"></div>
<div style="position:absolute;left:957.00px;top:1122.00px;width:235.00px;height:54.35px;background:#cdd5e8"></div>
<div style="position:absolute;left:1192.00px;top:1122.00px;width:236.00px;height:54.35px;background:#fdfce9"></div>
<div style="position:absolute;left:814.50px;top:1176.35px;width:142.50px;height:54.35px;background:#e3e4e6"></div>
<div style="position:absolute;left:1428.00px;top:1176.35px;width:355.00px;height:54.35px;background:#e3e4e6"></div>
<div style="position:absolute;left:957.00px;top:1176.35px;width:235.00px;height:54.35px;background:#b9c5d8"></div>
<div style="position:absolute;left:1192.00px;top:1176.35px;width:236.00px;height:54.35px;background:#f6f1de"></div>
<div style="position:absolute;left:957.00px;top:1230.70px;width:235.00px;height:54.35px;background:#cdd5e8"></div>
<div style="position:absolute;left:1192.00px;top:1230.70px;width:236.00px;height:54.35px;background:#fdfce9"></div>
<div style="position:absolute;left:814.50px;top:1285.05px;width:142.50px;height:54.35px;background:#e3e4e6"></div>
<div style="position:absolute;left:1428.00px;top:1285.05px;width:355.00px;height:54.35px;background:#e3e4e6"></div>
<div style="position:absolute;left:957.00px;top:1285.05px;width:235.00px;height:54.35px;background:#b9c5d8"></div>
<div style="position:absolute;left:1192.00px;top:1285.05px;width:236.00px;height:54.35px;background:#f6f1de"></div>
<div style="position:absolute;left:957.00px;top:1339.40px;width:235.00px;height:54.35px;background:#cdd5e8"></div>
<div style="position:absolute;left:1192.00px;top:1339.40px;width:236.00px;height:54.35px;background:#fdfce9"></div>
<div style="position:absolute;left:814.50px;top:1393.75px;width:142.50px;height:54.35px;background:#e3e4e6"></div>
<div style="position:absolute;left:1428.00px;top:1393.75px;width:355.00px;height:54.35px;background:#e3e4e6"></div>
<div style="position:absolute;left:957.00px;top:1393.75px;width:235.00px;height:54.35px;background:#b9c5d8"></div>
<div style="position:absolute;left:1192.00px;top:1393.75px;width:236.00px;height:54.35px;background:#f6f1de"></div>
<div style="position:absolute;left:957.00px;top:1448.10px;width:235.00px;height:54.35px;background:#cdd5e8"></div>
<div style="position:absolute;left:1192.00px;top:1448.10px;width:236.00px;height:54.35px;background:#fdfce9"></div>
<div style="position:absolute;left:814.50px;top:1502.45px;width:142.50px;height:54.35px;background:#e3e4e6"></div>
<div style="position:absolute;left:1428.00px;top:1502.45px;width:355.00px;height:54.35px;background:#e3e4e6"></div>
<div style="position:absolute;left:957.00px;top:1502.45px;width:235.00px;height:54.35px;background:#b9c5d8"></div>
<div style="position:absolute;left:1192.00px;top:1502.45px;width:236.00px;height:54.35px;background:#f6f1de"></div>
<div style="position:absolute;left:957.00px;top:1556.80px;width:235.00px;height:54.35px;background:#cdd5e8"></div>
<div style="position:absolute;left:1192.00px;top:1556.80px;width:236.00px;height:54.35px;background:#fdfce9"></div>
<div style="position:absolute;left:814.50px;top:1611.15px;width:142.50px;height:54.35px;background:#e3e4e6"></div>
<div style="position:absolute;left:1428.00px;top:1611.15px;width:355.00px;height:54.35px;background:#e3e4e6"></div>
<div style="position:absolute;left:957.00px;top:1611.15px;width:235.00px;height:54.35px;background:#b9c5d8"></div>
<div style="position:absolute;left:1192.00px;top:1611.15px;width:236.00px;height:54.35px;background:#f6f1de"></div>
<div style="position:absolute;left:957.00px;top:1665.50px;width:235.00px;height:54.35px;background:#cdd5e8"></div>
<div style="position:absolute;left:1192.00px;top:1665.50px;width:236.00px;height:54.35px;background:#fdfce9"></div>
<div style="position:absolute;left:814.50px;top:1719.85px;width:142.50px;height:54.35px;background:#e3e4e6"></div>
<div style="position:absolute;left:1428.00px;top:1719.85px;width:355.00px;height:54.35px;background:#e3e4e6"></div>
<div style="position:absolute;left:957.00px;top:1719.85px;width:235.00px;height:54.35px;background:#b9c5d8"></div>
<div style="position:absolute;left:1192.00px;top:1719.85px;width:236.00px;height:54.35px;background:#f6f1de"></div>
<div style="position:absolute;left:957.00px;top:1774.20px;width:235.00px;height:54.35px;background:#cdd5e8"></div>
<div style="position:absolute;left:1192.00px;top:1774.20px;width:236.00px;height:54.35px;background:#fdfce9"></div>
<div style="position:absolute;left:532.00px;top:1067.00px;width:1735.00px;height:1.4px;background:#4a4a55"></div>
<div style="position:absolute;left:532.00px;top:1121.00px;width:1735.00px;height:1.6px;background:#3a3a3a"></div>
<div style="position:absolute;left:532.00px;top:1176.00px;width:1735.00px;height:1.5px;background:#3c3c3c"></div>
<div style="position:absolute;left:814.50px;top:1230.00px;width:968.50px;height:1.5px;background:#3c3c3c"></div>
<div style="position:absolute;left:814.50px;top:1284.00px;width:968.50px;height:1.5px;background:#3c3c3c"></div>
<div style="position:absolute;left:814.50px;top:1339.00px;width:968.50px;height:1.5px;background:#3c3c3c"></div>
<div style="position:absolute;left:814.50px;top:1393.00px;width:968.50px;height:1.5px;background:#3c3c3c"></div>
<div style="position:absolute;left:814.50px;top:1447.00px;width:968.50px;height:1.5px;background:#3c3c3c"></div>
<div style="position:absolute;left:532.00px;top:1502.00px;width:1735.00px;height:1.5px;background:#3c3c3c"></div>
<div style="position:absolute;left:814.50px;top:1556.00px;width:968.50px;height:1.5px;background:#3c3c3c"></div>
<div style="position:absolute;left:814.50px;top:1610.00px;width:968.50px;height:1.5px;background:#3c3c3c"></div>
<div style="position:absolute;left:532.00px;top:1665.00px;width:1735.00px;height:1.5px;background:#3c3c3c"></div>
<div style="position:absolute;left:814.50px;top:1719.00px;width:968.50px;height:1.5px;background:#3c3c3c"></div>
<div style="position:absolute;left:532.00px;top:1773.00px;width:1735.00px;height:1.5px;background:#3c3c3c"></div>
<div style="position:absolute;left:532.00px;top:1828.00px;width:1735.00px;height:1.5px;background:#3c3c3c"></div>
<div class="t" style="left:863.00px;top:1133.99px;font-size:34px;color:#383838;font-weight:400"><span style="transform:scaleX(0.86);transform-origin:0 50%">16</span></div>
<div class="t" style="left:989.00px;top:1133.99px;font-size:34px;color:#383838;font-weight:400"><span style="transform:scaleX(0.78);transform-origin:0 50%">2ER16ACME...</span></div>
<div class="t" style="left:1225.00px;top:1133.99px;font-size:34px;color:#383838;font-weight:400"><span style="transform:scaleX(0.78);transform-origin:0 50%">2EL16ACME...</span></div>
<div class="t" style="left:1434.00px;top:1133.99px;width:118.00px;text-align:center;font-size:34px;color:#383838;font-weight:400"><span style="transform:scaleX(0.86);transform-origin:50% 50%">0.92</span></div>
<div class="t" style="left:1546.00px;top:1133.99px;width:118.00px;text-align:center;font-size:34px;color:#383838;font-weight:400"><span style="transform:scaleX(0.86);transform-origin:50% 50%">1.0</span></div>
<div class="t" style="left:1664.00px;top:1133.99px;width:119.00px;text-align:center;font-size:34px;color:#383838;font-weight:400"><span style="transform:scaleX(0.86);transform-origin:50% 50%">1.1</span></div>
<div class="t" style="left:863.00px;top:1188.34px;font-size:34px;color:#383838;font-weight:400"><span style="transform:scaleX(0.86);transform-origin:0 50%">16</span></div>
<div class="t" style="left:989.00px;top:1188.34px;font-size:34px;color:#383838;font-weight:400"><span style="transform:scaleX(0.78);transform-origin:0 50%">3ER16ACME...</span></div>
<div class="t" style="left:1225.00px;top:1188.34px;font-size:34px;color:#383838;font-weight:400"><span style="transform:scaleX(0.78);transform-origin:0 50%">3EL16ACME...</span></div>
<div class="t" style="left:1434.00px;top:1188.34px;width:118.00px;text-align:center;font-size:34px;color:#383838;font-weight:400"><span style="transform:scaleX(0.86);transform-origin:50% 50%">0.92</span></div>
<div class="t" style="left:1546.00px;top:1188.34px;width:118.00px;text-align:center;font-size:34px;color:#383838;font-weight:400"><span style="transform:scaleX(0.86);transform-origin:50% 50%">1.0</span></div>
<div class="t" style="left:1664.00px;top:1188.34px;width:119.00px;text-align:center;font-size:34px;color:#383838;font-weight:400"><span style="transform:scaleX(0.86);transform-origin:50% 50%">1.1</span></div>
<div class="t" style="left:863.00px;top:1242.69px;font-size:34px;color:#383838;font-weight:400"><span style="transform:scaleX(0.86);transform-origin:0 50%">14</span></div>
<div class="t" style="left:989.00px;top:1242.69px;font-size:34px;color:#383838;font-weight:400"><span style="transform:scaleX(0.78);transform-origin:0 50%">3ER14ACME...</span></div>
<div class="t" style="left:1225.00px;top:1242.69px;font-size:34px;color:#383838;font-weight:400"><span style="transform:scaleX(0.78);transform-origin:0 50%">3EL14ACME...</span></div>
<div class="t" style="left:1434.00px;top:1242.69px;width:118.00px;text-align:center;font-size:34px;color:#383838;font-weight:400"><span style="transform:scaleX(0.86);transform-origin:50% 50%">1.03</span></div>
<div class="t" style="left:1546.00px;top:1242.69px;width:118.00px;text-align:center;font-size:34px;color:#383838;font-weight:400"><span style="transform:scaleX(0.86);transform-origin:50% 50%">1.0</span></div>
<div class="t" style="left:1664.00px;top:1242.69px;width:119.00px;text-align:center;font-size:34px;color:#383838;font-weight:400"><span style="transform:scaleX(0.86);transform-origin:50% 50%">1.2</span></div>
<div class="t" style="left:863.00px;top:1297.04px;font-size:34px;color:#383838;font-weight:400"><span style="transform:scaleX(0.86);transform-origin:0 50%">12</span></div>
<div class="t" style="left:989.00px;top:1297.04px;font-size:34px;color:#383838;font-weight:400"><span style="transform:scaleX(0.78);transform-origin:0 50%">3ER12ACME...</span></div>
<div class="t" style="left:1225.00px;top:1297.04px;font-size:34px;color:#383838;font-weight:400"><span style="transform:scaleX(0.78);transform-origin:0 50%">3EL12ACME...</span></div>
<div class="t" style="left:1434.00px;top:1297.04px;width:118.00px;text-align:center;font-size:34px;color:#383838;font-weight:400"><span style="transform:scaleX(0.86);transform-origin:50% 50%">1.19</span></div>
<div class="t" style="left:1546.00px;top:1297.04px;width:118.00px;text-align:center;font-size:34px;color:#383838;font-weight:400"><span style="transform:scaleX(0.86);transform-origin:50% 50%">1.1</span></div>
<div class="t" style="left:1664.00px;top:1297.04px;width:119.00px;text-align:center;font-size:34px;color:#383838;font-weight:400"><span style="transform:scaleX(0.86);transform-origin:50% 50%">1.2</span></div>
<div class="t" style="left:863.00px;top:1351.39px;font-size:34px;color:#383838;font-weight:400"><span style="transform:scaleX(0.86);transform-origin:0 50%">10</span></div>
<div class="t" style="left:989.00px;top:1351.39px;font-size:34px;color:#383838;font-weight:400"><span style="transform:scaleX(0.78);transform-origin:0 50%">3ER10ACME...</span></div>
<div class="t" style="left:1225.00px;top:1351.39px;font-size:34px;color:#383838;font-weight:400"><span style="transform:scaleX(0.78);transform-origin:0 50%">3EL10ACME...</span></div>
<div class="t" style="left:1434.00px;top:1351.39px;width:118.00px;text-align:center;font-size:34px;color:#383838;font-weight:400"><span style="transform:scaleX(0.86);transform-origin:50% 50%">1.52</span></div>
<div class="t" style="left:1546.00px;top:1351.39px;width:118.00px;text-align:center;font-size:34px;color:#383838;font-weight:400"><span style="transform:scaleX(0.86);transform-origin:50% 50%">1.3</span></div>
<div class="t" style="left:1664.00px;top:1351.39px;width:119.00px;text-align:center;font-size:34px;color:#383838;font-weight:400"><span style="transform:scaleX(0.86);transform-origin:50% 50%">1.4</span></div>
<div class="t" style="left:863.00px;top:1405.74px;font-size:34px;color:#383838;font-weight:400"><span style="transform:scaleX(0.86);transform-origin:0 50%">8</span></div>
<div class="t" style="left:989.00px;top:1405.74px;font-size:34px;color:#383838;font-weight:400"><span style="transform:scaleX(0.78);transform-origin:0 50%">3ER8ACME...</span></div>
<div class="t" style="left:1225.00px;top:1405.74px;font-size:34px;color:#383838;font-weight:400"><span style="transform:scaleX(0.78);transform-origin:0 50%">3EL8ACME...</span></div>
<div class="t" style="left:1434.00px;top:1405.74px;width:118.00px;text-align:center;font-size:34px;color:#383838;font-weight:400"><span style="transform:scaleX(0.86);transform-origin:50% 50%">1.84</span></div>
<div class="t" style="left:1546.00px;top:1405.74px;width:118.00px;text-align:center;font-size:34px;color:#383838;font-weight:400"><span style="transform:scaleX(0.86);transform-origin:50% 50%">1.4</span></div>
<div class="t" style="left:1664.00px;top:1405.74px;width:119.00px;text-align:center;font-size:34px;color:#383838;font-weight:400"><span style="transform:scaleX(0.86);transform-origin:50% 50%">1.5</span></div>
<div class="t" style="left:863.00px;top:1460.09px;font-size:34px;color:#383838;font-weight:400"><span style="transform:scaleX(0.86);transform-origin:0 50%">7</span></div>
<div class="t" style="left:989.00px;top:1460.09px;font-size:34px;color:#383838;font-weight:400"><span style="transform:scaleX(0.78);transform-origin:0 50%">3ER7ACME...</span></div>
<div class="t" style="left:1225.00px;top:1460.09px;font-size:34px;color:#383838;font-weight:400"><span style="transform:scaleX(0.78);transform-origin:0 50%">3EL7ACME...</span></div>
<div class="t" style="left:1434.00px;top:1460.09px;width:118.00px;text-align:center;font-size:34px;color:#383838;font-weight:400"><span style="transform:scaleX(0.86);transform-origin:50% 50%">2.08</span></div>
<div class="t" style="left:1546.00px;top:1460.09px;width:118.00px;text-align:center;font-size:34px;color:#383838;font-weight:400"><span style="transform:scaleX(0.86);transform-origin:50% 50%">1.9</span></div>
<div class="t" style="left:1664.00px;top:1460.09px;width:119.00px;text-align:center;font-size:34px;color:#383838;font-weight:400"><span style="transform:scaleX(0.86);transform-origin:50% 50%">2.2</span></div>
<div class="t" style="left:863.00px;top:1514.44px;font-size:34px;color:#383838;font-weight:400"><span style="transform:scaleX(0.86);transform-origin:0 50%">7</span></div>
<div class="t" style="left:989.00px;top:1514.44px;font-size:34px;color:#383838;font-weight:400"><span style="transform:scaleX(0.78);transform-origin:0 50%">4ER7ACME...</span></div>
<div class="t" style="left:1225.00px;top:1514.44px;font-size:34px;color:#383838;font-weight:400"><span style="transform:scaleX(0.78);transform-origin:0 50%">4EL7ACME...</span></div>
<div class="t" style="left:1434.00px;top:1514.44px;width:118.00px;text-align:center;font-size:34px;color:#383838;font-weight:400"><span style="transform:scaleX(0.86);transform-origin:50% 50%">2.08</span></div>
<div class="t" style="left:1546.00px;top:1514.44px;width:118.00px;text-align:center;font-size:34px;color:#383838;font-weight:400"><span style="transform:scaleX(0.86);transform-origin:50% 50%">1.9</span></div>
<div class="t" style="left:1664.00px;top:1514.44px;width:119.00px;text-align:center;font-size:34px;color:#383838;font-weight:400"><span style="transform:scaleX(0.86);transform-origin:50% 50%">2.2</span></div>
<div class="t" style="left:863.00px;top:1568.79px;font-size:34px;color:#383838;font-weight:400"><span style="transform:scaleX(0.86);transform-origin:0 50%">6</span></div>
<div class="t" style="left:989.00px;top:1568.79px;font-size:34px;color:#383838;font-weight:400"><span style="transform:scaleX(0.78);transform-origin:0 50%">4ER6ACME...</span></div>
<div class="t" style="left:1225.00px;top:1568.79px;font-size:34px;color:#383838;font-weight:400"><span style="transform:scaleX(0.78);transform-origin:0 50%">4EL6ACME...</span></div>
<div class="t" style="left:1434.00px;top:1568.79px;width:118.00px;text-align:center;font-size:34px;color:#383838;font-weight:400"><span style="transform:scaleX(0.86);transform-origin:50% 50%">2.37</span></div>
<div class="t" style="left:1546.00px;top:1568.79px;width:118.00px;text-align:center;font-size:34px;color:#383838;font-weight:400"><span style="transform:scaleX(0.86);transform-origin:50% 50%">1.8</span></div>
<div class="t" style="left:1664.00px;top:1568.79px;width:119.00px;text-align:center;font-size:34px;color:#383838;font-weight:400"><span style="transform:scaleX(0.86);transform-origin:50% 50%">2.1</span></div>
<div class="t" style="left:863.00px;top:1623.14px;font-size:34px;color:#383838;font-weight:400"><span style="transform:scaleX(0.86);transform-origin:0 50%">5</span></div>
<div class="t" style="left:989.00px;top:1623.14px;font-size:34px;color:#383838;font-weight:400"><span style="transform:scaleX(0.78);transform-origin:0 50%">4ER5ACME...</span></div>
<div class="t" style="left:1225.00px;top:1623.14px;font-size:34px;color:#383838;font-weight:400"><span style="transform:scaleX(0.78);transform-origin:0 50%">4EL5ACME...</span></div>
<div class="t" style="left:1434.00px;top:1623.14px;width:118.00px;text-align:center;font-size:34px;color:#383838;font-weight:400"><span style="transform:scaleX(0.86);transform-origin:50% 50%">2.79</span></div>
<div class="t" style="left:1546.00px;top:1623.14px;width:118.00px;text-align:center;font-size:34px;color:#383838;font-weight:400"><span style="transform:scaleX(0.86);transform-origin:50% 50%">2.0</span></div>
<div class="t" style="left:1664.00px;top:1623.14px;width:119.00px;text-align:center;font-size:34px;color:#383838;font-weight:400"><span style="transform:scaleX(0.86);transform-origin:50% 50%">2.3</span></div>
<div class="t" style="left:863.00px;top:1677.49px;font-size:34px;color:#383838;font-weight:400"><span style="transform:scaleX(0.86);transform-origin:0 50%">6</span></div>
<div class="t" style="left:989.00px;top:1677.49px;font-size:34px;color:#383838;font-weight:400"><span style="transform:scaleX(0.78);transform-origin:0 50%">4FER6ACME...</span></div>
<div class="t" style="left:1434.00px;top:1677.49px;width:118.00px;text-align:center;font-size:34px;color:#383838;font-weight:400"><span style="transform:scaleX(0.86);transform-origin:50% 50%">2.37</span></div>
<div class="t" style="left:1546.00px;top:1677.49px;width:118.00px;text-align:center;font-size:34px;color:#383838;font-weight:400"><span style="transform:scaleX(0.86);transform-origin:50% 50%">1.8</span></div>
<div class="t" style="left:1664.00px;top:1677.49px;width:119.00px;text-align:center;font-size:34px;color:#383838;font-weight:400"><span style="transform:scaleX(0.86);transform-origin:50% 50%">2.1</span></div>
<div class="t" style="left:863.00px;top:1731.84px;font-size:34px;color:#383838;font-weight:400"><span style="transform:scaleX(0.86);transform-origin:0 50%">5</span></div>
<div class="t" style="left:989.00px;top:1731.84px;font-size:34px;color:#383838;font-weight:400"><span style="transform:scaleX(0.78);transform-origin:0 50%">4FER5ACME...</span></div>
<div class="t" style="left:1434.00px;top:1731.84px;width:118.00px;text-align:center;font-size:34px;color:#383838;font-weight:400"><span style="transform:scaleX(0.86);transform-origin:50% 50%">2.79</span></div>
<div class="t" style="left:1546.00px;top:1731.84px;width:118.00px;text-align:center;font-size:34px;color:#383838;font-weight:400"><span style="transform:scaleX(0.86);transform-origin:50% 50%">2.0</span></div>
<div class="t" style="left:1664.00px;top:1731.84px;width:119.00px;text-align:center;font-size:34px;color:#383838;font-weight:400"><span style="transform:scaleX(0.86);transform-origin:50% 50%">2.3</span></div>
<div class="t" style="left:863.00px;top:1786.19px;font-size:34px;color:#383838;font-weight:400"><span style="transform:scaleX(0.86);transform-origin:0 50%">4</span></div>
<div class="t" style="left:989.00px;top:1786.19px;font-size:34px;color:#383838;font-weight:400"><span style="transform:scaleX(0.78);transform-origin:0 50%">5ER4ACME...</span></div>
<div class="t" style="left:1225.00px;top:1786.19px;font-size:34px;color:#383838;font-weight:400"><span style="transform:scaleX(0.78);transform-origin:0 50%">5EL4ACME...</span></div>
<div class="t" style="left:1434.00px;top:1786.19px;width:118.00px;text-align:center;font-size:34px;color:#383838;font-weight:400"><span style="transform:scaleX(0.86);transform-origin:50% 50%">3.43</span></div>
<div class="t" style="left:1546.00px;top:1786.19px;width:118.00px;text-align:center;font-size:34px;color:#383838;font-weight:400"><span style="transform:scaleX(0.86);transform-origin:50% 50%">2.4</span></div>
<div class="t" style="left:1664.00px;top:1786.19px;width:119.00px;text-align:center;font-size:34px;color:#383838;font-weight:400"><span style="transform:scaleX(0.86);transform-origin:50% 50%">2.7</span></div>
<div class="t" style="left:573.60px;top:1133.99px;font-size:34px;color:#383838;font-weight:400"><span style="transform:scaleX(0.86);transform-origin:0 50%">1/4″</span></div>
<div class="t" style="left:674.00px;top:1133.99px;width:140.50px;text-align:center;font-size:34px;color:#383838;font-weight:400"><span style="transform:scaleX(0.86);transform-origin:50% 50%">11</span></div>
<div class="t" style="left:1783.00px;top:1133.99px;width:119.00px;text-align:center;font-size:34px;color:#383838;font-weight:400"><span style="transform:scaleX(0.86);transform-origin:50% 50%">-</span></div>
<div class="t" style="left:1902.00px;top:1133.99px;width:117.50px;text-align:center;font-size:34px;color:#383838;font-weight:400"><span style="transform:scaleX(0.86);transform-origin:50% 50%">-</span></div>
<div class="t" style="left:2063.50px;top:1133.99px;font-size:34px;color:#383838;font-weight:400"><span style="transform:scaleX(0.82);transform-origin:0 50%">NL..-2 (LH)</span></div>
<div class="t" style="left:573.60px;top:1324.22px;font-size:34px;color:#383838;font-weight:400"><span style="transform:scaleX(0.86);transform-origin:0 50%">3/8″</span></div>
<div class="t" style="left:674.00px;top:1324.22px;width:140.50px;text-align:center;font-size:34px;color:#383838;font-weight:400"><span style="transform:scaleX(0.86);transform-origin:50% 50%">16</span></div>
<div class="t" style="left:1783.00px;top:1324.22px;width:119.00px;text-align:center;font-size:34px;color:#383838;font-weight:400"><span style="transform:scaleX(0.86);transform-origin:50% 50%">YE3</span></div>
<div class="t" style="left:1902.00px;top:1324.22px;width:117.50px;text-align:center;font-size:34px;color:#383838;font-weight:400"><span style="transform:scaleX(0.86);transform-origin:50% 50%">YI3</span></div>
<div class="t" style="left:2063.50px;top:1324.22px;font-size:34px;color:#383838;font-weight:400"><span style="transform:scaleX(0.82);transform-origin:0 50%">AL..-3 (LH)</span></div>
<div class="t" style="left:573.60px;top:1568.79px;font-size:34px;color:#383838;font-weight:400"><span style="transform:scaleX(0.86);transform-origin:0 50%">1/2″</span></div>
<div class="t" style="left:674.00px;top:1568.79px;width:140.50px;text-align:center;font-size:34px;color:#383838;font-weight:400"><span style="transform:scaleX(0.86);transform-origin:50% 50%">22</span></div>
<div class="t" style="left:1783.00px;top:1568.79px;width:119.00px;text-align:center;font-size:34px;color:#383838;font-weight:400"><span style="transform:scaleX(0.86);transform-origin:50% 50%">YE4</span></div>
<div class="t" style="left:1902.00px;top:1568.79px;width:117.50px;text-align:center;font-size:34px;color:#383838;font-weight:400"><span style="transform:scaleX(0.86);transform-origin:50% 50%">YI4</span></div>
<div class="t" style="left:2063.50px;top:1568.79px;font-size:34px;color:#383838;font-weight:400"><span style="transform:scaleX(0.82);transform-origin:0 50%">AL..-4 (LH)</span></div>
<div class="t" style="left:573.60px;top:1704.67px;font-size:34px;color:#383838;font-weight:400"><span style="transform:scaleX(0.86);transform-origin:0 50%">1/2″F</span></div>
<div class="t" style="left:674.00px;top:1704.67px;width:140.50px;text-align:center;font-size:34px;color:#383838;font-weight:400"><span style="transform:scaleX(0.86);transform-origin:50% 50%">23</span></div>
<div class="t" style="left:1783.00px;top:1704.67px;width:119.00px;text-align:center;font-size:34px;color:#383838;font-weight:400"><span style="transform:scaleX(0.86);transform-origin:50% 50%">YE4F</span></div>
<div class="t" style="left:2063.50px;top:1704.67px;font-size:34px;color:#383838;font-weight:400"><span style="transform:scaleX(0.82);transform-origin:0 50%">AL...-4F</span></div>
<div class="t" style="left:573.60px;top:1786.19px;font-size:34px;color:#383838;font-weight:400"><span style="transform:scaleX(0.86);transform-origin:0 50%">5/8″</span></div>
<div class="t" style="left:674.00px;top:1786.19px;width:140.50px;text-align:center;font-size:34px;color:#383838;font-weight:400"><span style="transform:scaleX(0.86);transform-origin:50% 50%">27</span></div>
<div class="t" style="left:1783.00px;top:1786.19px;width:119.00px;text-align:center;font-size:34px;color:#383838;font-weight:400"><span style="transform:scaleX(0.86);transform-origin:50% 50%">YE5</span></div>
<div class="t" style="left:1902.00px;top:1786.19px;width:117.50px;text-align:center;font-size:34px;color:#383838;font-weight:400"><span style="transform:scaleX(0.86);transform-origin:50% 50%">YI5</span></div>
<div class="t" style="left:2063.50px;top:1786.19px;font-size:34px;color:#383838;font-weight:400"><span style="transform:scaleX(0.82);transform-origin:0 50%">AL..-5 (LH)</span></div>
<div class="t" style="left:189.5px;top:1854.85px;font-size:50.5px;font-weight:700;color:#231f20;letter-spacing:0px"><span style="transform:scaleX(1.052);transform-origin:0 50%">U Style</span></div>
<div style="position:absolute;left:177.00px;top:1909.00px;width:2090.00px;height:3.2px;background:#231f20"></div>
<div style="position:absolute;left:532.00px;top:1912.20px;width:1735.00px;height:52.85px;background:#b2b4c7"></div>
<div style="position:absolute;left:532.00px;top:1965.05px;width:1735.00px;height:54.35px;background:#e3e4e6"></div>
<div class="t" style="left:532.00px;top:1922.12px;width:282.50px;text-align:center;font-size:34px;color:#2b2b2b;font-weight:400"><span style="transform:scaleX(0.915);transform-origin:50% 50%">Insert Size</span></div>
<div class="t" style="left:814.50px;top:1922.12px;width:142.50px;text-align:center;font-size:34px;color:#2b2b2b;font-weight:400"><span style="transform:scaleX(0.915);transform-origin:50% 50%">Pitch</span></div>
<div class="t" style="left:957.00px;top:1922.12px;width:471.00px;text-align:center;font-size:34px;color:#2b2b2b;font-weight:400"><span style="transform:scaleX(0.915);transform-origin:50% 50%">Ordering Code</span></div>
<div class="t" style="left:1428.00px;top:1922.12px;width:355.00px;text-align:center;font-size:34px;color:#2b2b2b;font-weight:400"><span style="transform:scaleX(0.915);transform-origin:50% 50%">Dimensions mm</span></div>
<div class="t" style="left:1783.00px;top:1922.12px;width:236.50px;text-align:center;font-size:34px;color:#2b2b2b;font-weight:400"><span style="transform:scaleX(0.915);transform-origin:50% 50%">Anvil</span></div>
<div class="t h2" style="left:532.00px;top:1976.47px;width:142.00px;text-align:center;font-size:34px;color:#1e1e1e;font-weight:400"><span style="transform:scaleX(0.95);transform-origin:50% 50%">IC</span></div>
<div class="t h2" style="left:674.00px;top:1976.47px;width:140.50px;text-align:center;font-size:34px;color:#1e1e1e;font-weight:400"><span style="transform:scaleX(0.95);transform-origin:50% 50%">L <i>mm</i></span></div>
<div class="t h2" style="left:814.50px;top:1976.47px;width:142.50px;text-align:center;font-size:34px;color:#1e1e1e;font-weight:400"><span style="transform:scaleX(0.95);transform-origin:50% 50%">TPI</span></div>
<div class="t h2" style="left:957.00px;top:1976.47px;width:471.00px;text-align:center;font-size:34px;color:#1e1e1e;font-weight:400"><span style="transform:scaleX(0.95);transform-origin:50% 50%">RH+LH</span></div>
<div class="t h2" style="left:1428.00px;top:1976.47px;width:118.00px;text-align:center;font-size:34px;color:#1e1e1e;font-weight:400"><span style="transform:scaleX(0.95);transform-origin:50% 50%">h <i>min</i></span></div>
<div class="t h2" style="left:1546.00px;top:1976.47px;width:118.00px;text-align:center;font-size:34px;color:#1e1e1e;font-weight:400"><span style="transform:scaleX(0.95);transform-origin:50% 50%">X</span></div>
<div class="t h2" style="left:1664.00px;top:1976.47px;width:119.00px;text-align:center;font-size:34px;color:#1e1e1e;font-weight:400"><span style="transform:scaleX(0.95);transform-origin:50% 50%">Y</span></div>
<div class="t h2" style="left:1783.00px;top:1976.47px;width:119.00px;text-align:center;font-size:34px;color:#1e1e1e;font-weight:400"><span style="transform:scaleX(0.95);transform-origin:50% 50%">RH</span></div>
<div class="t h2" style="left:1902.00px;top:1976.47px;width:117.50px;text-align:center;font-size:34px;color:#1e1e1e;font-weight:400"><span style="transform:scaleX(0.95);transform-origin:50% 50%">LH</span></div>
<div class="t h2" style="left:2019.50px;top:1976.47px;width:247.50px;text-align:center;font-size:34px;color:#1e1e1e;font-weight:400"><span style="transform:scaleX(0.95);transform-origin:50% 50%">Toolholder</span></div>
<div style="position:absolute;left:674.00px;top:2019.40px;width:140.50px;height:163.05px;background:#e3e4e6"></div>
<div style="position:absolute;left:1902.00px;top:2019.40px;width:117.50px;height:163.05px;background:#e3e4e6"></div>
<div style="position:absolute;left:957.00px;top:2019.40px;width:471.00px;height:54.35px;background:#e1d7dc"></div>
<div style="position:absolute;left:814.50px;top:2073.75px;width:142.50px;height:54.35px;background:#e3e4e6"></div>
<div style="position:absolute;left:1428.00px;top:2073.75px;width:355.00px;height:54.35px;background:#e3e4e6"></div>
<div style="position:absolute;left:957.00px;top:2073.75px;width:471.00px;height:54.35px;background:#c9bdc8"></div>
<div style="position:absolute;left:957.00px;top:2128.10px;width:471.00px;height:54.35px;background:#e1d7dc"></div>
<div style="position:absolute;left:532.00px;top:1964.00px;width:1735.00px;height:1.4px;background:#4a4a55"></div>
<div style="position:absolute;left:532.00px;top:2019.00px;width:1735.00px;height:1.6px;background:#3a3a3a"></div>
<div style="position:absolute;left:814.50px;top:2073.00px;width:968.50px;height:1.5px;background:#3c3c3c"></div>
<div style="position:absolute;left:532.00px;top:2127.00px;width:1735.00px;height:1.5px;background:#3c3c3c"></div>
<div style="position:absolute;left:532.00px;top:2182.00px;width:1735.00px;height:1.5px;background:#3c3c3c"></div>
<div class="t" style="left:814.50px;top:2031.39px;width:142.50px;text-align:center;font-size:34px;color:#383838;font-weight:400"><span style="transform:scaleX(0.86);transform-origin:50% 50%">4</span></div>
<div class="t" style="left:1098.00px;top:2031.39px;font-size:34px;color:#383838;font-weight:400"><span style="transform:scaleX(0.8);transform-origin:0 50%">4UE4ACME...</span></div>
<div class="t" style="left:1428.00px;top:2031.39px;width:118.00px;text-align:center;font-size:34px;color:#383838;font-weight:400"><span style="transform:scaleX(0.86);transform-origin:50% 50%">3.43</span></div>
<div class="t" style="left:1539.00px;top:2031.39px;width:118.00px;text-align:center;font-size:34px;color:#383838;font-weight:400"><span style="transform:scaleX(0.86);transform-origin:50% 50%">2.3</span></div>
<div class="t" style="left:1664.00px;top:2031.39px;width:119.00px;text-align:center;font-size:34px;color:#383838;font-weight:400"><span style="transform:scaleX(0.86);transform-origin:50% 50%">11.0</span></div>
<div class="t" style="left:814.50px;top:2085.74px;width:142.50px;text-align:center;font-size:34px;color:#383838;font-weight:400"><span style="transform:scaleX(0.86);transform-origin:50% 50%">3</span></div>
<div class="t" style="left:1098.00px;top:2085.74px;font-size:34px;color:#383838;font-weight:400"><span style="transform:scaleX(0.8);transform-origin:0 50%">4UE3ACME...</span></div>
<div class="t" style="left:1428.00px;top:2085.74px;width:118.00px;text-align:center;font-size:34px;color:#383838;font-weight:400"><span style="transform:scaleX(0.86);transform-origin:50% 50%">4.49</span></div>
<div class="t" style="left:1539.00px;top:2085.74px;width:118.00px;text-align:center;font-size:34px;color:#383838;font-weight:400"><span style="transform:scaleX(0.86);transform-origin:50% 50%">3.0</span></div>
<div class="t" style="left:1664.00px;top:2085.74px;width:119.00px;text-align:center;font-size:34px;color:#383838;font-weight:400"><span style="transform:scaleX(0.86);transform-origin:50% 50%">11.0</span></div>
<div class="t" style="left:814.50px;top:2140.09px;width:142.50px;text-align:center;font-size:34px;color:#383838;font-weight:400"><span style="transform:scaleX(0.86);transform-origin:50% 50%">3</span></div>
<div class="t" style="left:1098.00px;top:2140.09px;font-size:34px;color:#383838;font-weight:400"><span style="transform:scaleX(0.8);transform-origin:0 50%">5UE3ACME...</span></div>
<div class="t" style="left:1428.00px;top:2140.09px;width:118.00px;text-align:center;font-size:34px;color:#383838;font-weight:400"><span style="transform:scaleX(0.86);transform-origin:50% 50%">4.49</span></div>
<div class="t" style="left:1539.00px;top:2140.09px;width:118.00px;text-align:center;font-size:34px;color:#383838;font-weight:400"><span style="transform:scaleX(0.86);transform-origin:50% 50%">3.0</span></div>
<div class="t" style="left:1664.00px;top:2140.09px;width:119.00px;text-align:center;font-size:34px;color:#383838;font-weight:400"><span style="transform:scaleX(0.86);transform-origin:50% 50%">13.7</span></div>
<div class="t" style="left:532.00px;top:2058.57px;width:142.00px;text-align:center;font-size:34px;color:#383838;font-weight:400"><span style="transform:scaleX(0.86);transform-origin:50% 50%">1/2″U</span></div>
<div class="t" style="left:674.00px;top:2058.57px;width:140.50px;text-align:center;font-size:34px;color:#383838;font-weight:400"><span style="transform:scaleX(0.86);transform-origin:50% 50%">22</span></div>
<div class="t" style="left:1783.00px;top:2058.57px;width:119.00px;text-align:center;font-size:34px;color:#383838;font-weight:400"><span style="transform:scaleX(0.86);transform-origin:50% 50%">YE4U</span></div>
<div class="t" style="left:1902.00px;top:2058.57px;width:117.50px;text-align:center;font-size:34px;color:#383838;font-weight:400"><span style="transform:scaleX(0.86);transform-origin:50% 50%">YI4U</span></div>
<div class="t" style="left:2064.50px;top:2058.57px;font-size:34px;color:#383838;font-weight:400"><span style="transform:scaleX(0.82);transform-origin:0 50%">AL..-4U (LH)</span></div>
<div class="t" style="left:532.00px;top:2140.09px;width:142.00px;text-align:center;font-size:34px;color:#383838;font-weight:400"><span style="transform:scaleX(0.86);transform-origin:50% 50%">5/8″U</span></div>
<div class="t" style="left:674.00px;top:2140.09px;width:140.50px;text-align:center;font-size:34px;color:#383838;font-weight:400"><span style="transform:scaleX(0.86);transform-origin:50% 50%">27</span></div>
<div class="t" style="left:1783.00px;top:2140.09px;width:119.00px;text-align:center;font-size:34px;color:#383838;font-weight:400"><span style="transform:scaleX(0.86);transform-origin:50% 50%">YE5U</span></div>
<div class="t" style="left:1902.00px;top:2140.09px;width:117.50px;text-align:center;font-size:34px;color:#383838;font-weight:400"><span style="transform:scaleX(0.86);transform-origin:50% 50%">YI5U</span></div>
<div class="t" style="left:2064.50px;top:2140.09px;font-size:34px;color:#383838;font-weight:400"><span style="transform:scaleX(0.82);transform-origin:0 50%">AL..-5U (LH)</span></div>
<div class="t" style="left:189.5px;top:2203.45px;font-size:50.5px;font-weight:700;color:#231f20;letter-spacing:0px"><span style="transform:scaleX(1.045);transform-origin:0 50%">V Style</span></div>
<div style="position:absolute;left:177.00px;top:2258.00px;width:2090.00px;height:3.2px;background:#231f20"></div>
<div style="position:absolute;left:532.00px;top:2260.80px;width:1735.00px;height:52.85px;background:#b2b4c7"></div>
<div style="position:absolute;left:532.00px;top:2313.65px;width:1735.00px;height:54.35px;background:#e3e4e6"></div>
<div class="t" style="left:532.00px;top:2270.72px;width:282.50px;text-align:center;font-size:34px;color:#2b2b2b;font-weight:400"><span style="transform:scaleX(0.915);transform-origin:50% 50%">Insert Size</span></div>
<div class="t" style="left:814.50px;top:2270.72px;width:142.50px;text-align:center;font-size:34px;color:#2b2b2b;font-weight:400"><span style="transform:scaleX(0.915);transform-origin:50% 50%">Pitch</span></div>
<div class="t" style="left:957.00px;top:2270.72px;width:471.00px;text-align:center;font-size:34px;color:#2b2b2b;font-weight:400"><span style="transform:scaleX(0.915);transform-origin:50% 50%">Ordering Code</span></div>
<div class="t" style="left:1428.00px;top:2270.72px;width:591.50px;text-align:center;font-size:34px;color:#2b2b2b;font-weight:400"><span style="transform:scaleX(0.915);transform-origin:50% 50%">Dimensions mm</span></div>
<div class="t h2" style="left:532.00px;top:2325.07px;width:142.00px;text-align:center;font-size:34px;color:#1e1e1e;font-weight:400"><span style="transform:scaleX(0.95);transform-origin:50% 50%">IC</span></div>
<div class="t h2" style="left:674.00px;top:2325.07px;width:140.50px;text-align:center;font-size:34px;color:#1e1e1e;font-weight:400"><span style="transform:scaleX(0.95);transform-origin:50% 50%">L <i>mm</i></span></div>
<div class="t h2" style="left:814.50px;top:2325.07px;width:142.50px;text-align:center;font-size:34px;color:#1e1e1e;font-weight:400"><span style="transform:scaleX(0.95);transform-origin:50% 50%">TPI</span></div>
<div class="t h2" style="left:957.00px;top:2325.07px;width:236.00px;text-align:center;font-size:34px;color:#1e1e1e;font-weight:400"><span style="transform:scaleX(0.95);transform-origin:50% 50%">RH</span></div>
<div class="t h2" style="left:1193.00px;top:2325.07px;width:235.00px;text-align:center;font-size:34px;color:#1e1e1e;font-weight:400"><span style="transform:scaleX(0.95);transform-origin:50% 50%">LH</span></div>
<div class="t h2" style="left:1428.00px;top:2325.07px;width:148.00px;text-align:center;font-size:34px;color:#1e1e1e;font-weight:400"><span style="transform:scaleX(0.95);transform-origin:50% 50%">h <i>min</i></span></div>
<div class="t h2" style="left:1576.00px;top:2325.07px;width:148.00px;text-align:center;font-size:34px;color:#1e1e1e;font-weight:400"><span style="transform:scaleX(0.95);transform-origin:50% 50%">X</span></div>
<div class="t h2" style="left:1724.00px;top:2325.07px;width:148.00px;text-align:center;font-size:34px;color:#1e1e1e;font-weight:400"><span style="transform:scaleX(0.95);transform-origin:50% 50%">Y</span></div>
<div class="t h2" style="left:1872.00px;top:2325.07px;width:147.50px;text-align:center;font-size:34px;color:#1e1e1e;font-weight:400"><span style="transform:scaleX(0.95);transform-origin:50% 50%">T</span></div>
<div class="t h2" style="left:2019.50px;top:2325.07px;width:247.50px;text-align:center;font-size:34px;color:#1e1e1e;font-weight:400"><span style="transform:scaleX(0.95);transform-origin:50% 50%">Toolholder</span></div>
<div style="position:absolute;left:674.00px;top:2368.00px;width:140.50px;height:217.40px;background:#e3e4e6"></div>
<div style="position:absolute;left:957.00px;top:2368.00px;width:236.00px;height:54.35px;background:#cdd5e8"></div>
<div style="position:absolute;left:1193.00px;top:2368.00px;width:235.00px;height:54.35px;background:#fdfce9"></div>
<div style="position:absolute;left:814.50px;top:2422.35px;width:142.50px;height:54.35px;background:#e3e4e6"></div>
<div style="position:absolute;left:1428.00px;top:2422.35px;width:591.50px;height:54.35px;background:#e3e4e6"></div>
<div style="position:absolute;left:957.00px;top:2422.35px;width:236.00px;height:54.35px;background:#b9c5d8"></div>
<div style="position:absolute;left:1193.00px;top:2422.35px;width:235.00px;height:54.35px;background:#f6f1de"></div>
<div style="position:absolute;left:957.00px;top:2476.70px;width:236.00px;height:54.35px;background:#cdd5e8"></div>
<div style="position:absolute;left:1193.00px;top:2476.70px;width:235.00px;height:54.35px;background:#fdfce9"></div>
<div style="position:absolute;left:814.50px;top:2531.05px;width:142.50px;height:54.35px;background:#e3e4e6"></div>
<div style="position:absolute;left:1428.00px;top:2531.05px;width:591.50px;height:54.35px;background:#e3e4e6"></div>
<div style="position:absolute;left:957.00px;top:2531.05px;width:236.00px;height:54.35px;background:#b9c5d8"></div>
<div style="position:absolute;left:1193.00px;top:2531.05px;width:235.00px;height:54.35px;background:#f6f1de"></div>
<div style="position:absolute;left:532.00px;top:2313.00px;width:1735.00px;height:1.4px;background:#4a4a55"></div>
<div style="position:absolute;left:532.00px;top:2367.00px;width:1735.00px;height:1.6px;background:#3a3a3a"></div>
<div style="position:absolute;left:814.50px;top:2422.00px;width:1205.00px;height:1.5px;background:#3c3c3c"></div>
<div style="position:absolute;left:814.50px;top:2476.00px;width:1205.00px;height:1.5px;background:#3c3c3c"></div>
<div style="position:absolute;left:814.50px;top:2530.00px;width:1452.50px;height:1.5px;background:#3c3c3c"></div>
<div style="position:absolute;left:532.00px;top:2585.00px;width:1735.00px;height:1.5px;background:#3c3c3c"></div>
<div class="t" style="left:814.50px;top:2379.99px;width:142.50px;text-align:center;font-size:34px;color:#383838;font-weight:400"><span style="transform:scaleX(0.86);transform-origin:50% 50%">4</span></div>
<div class="t" style="left:984.00px;top:2379.99px;font-size:34px;color:#383838;font-weight:400"><span style="transform:scaleX(0.78);transform-origin:0 50%">5VER4ACME...</span></div>
<div class="t" style="left:1219.00px;top:2379.99px;font-size:34px;color:#383838;font-weight:400"><span style="transform:scaleX(0.78);transform-origin:0 50%">5VEL4ACME...</span></div>
<div class="t" style="left:1428.00px;top:2379.99px;width:148.00px;text-align:center;font-size:34px;color:#383838;font-weight:400"><span style="transform:scaleX(0.86);transform-origin:50% 50%">3.43</span></div>
<div class="t" style="left:1576.00px;top:2379.99px;width:148.00px;text-align:center;font-size:34px;color:#383838;font-weight:400"><span style="transform:scaleX(0.86);transform-origin:50% 50%">1.0</span></div>
<div class="t" style="left:1724.00px;top:2379.99px;width:148.00px;text-align:center;font-size:34px;color:#383838;font-weight:400"><span style="transform:scaleX(0.86);transform-origin:50% 50%">3.3</span></div>
<div class="t" style="left:1872.00px;top:2379.99px;width:147.50px;text-align:center;font-size:34px;color:#383838;font-weight:400"><span style="transform:scaleX(0.86);transform-origin:50% 50%">6</span></div>
<div class="t" style="left:814.50px;top:2434.34px;width:142.50px;text-align:center;font-size:34px;color:#383838;font-weight:400"><span style="transform:scaleX(0.86);transform-origin:50% 50%">3.5</span></div>
<div class="t" style="left:984.00px;top:2434.34px;font-size:34px;color:#383838;font-weight:400"><span style="transform:scaleX(0.78);transform-origin:0 50%">5VER3.5ACME...</span></div>
<div class="t" style="left:1219.00px;top:2434.34px;font-size:34px;color:#383838;font-weight:400"><span style="transform:scaleX(0.78);transform-origin:0 50%">5VEL3.5ACME...</span></div>
<div class="t" style="left:1428.00px;top:2434.34px;width:148.00px;text-align:center;font-size:34px;color:#383838;font-weight:400"><span style="transform:scaleX(0.86);transform-origin:50% 50%">3.85</span></div>
<div class="t" style="left:1576.00px;top:2434.34px;width:148.00px;text-align:center;font-size:34px;color:#383838;font-weight:400"><span style="transform:scaleX(0.86);transform-origin:50% 50%">1.0</span></div>
<div class="t" style="left:1724.00px;top:2434.34px;width:148.00px;text-align:center;font-size:34px;color:#383838;font-weight:400"><span style="transform:scaleX(0.86);transform-origin:50% 50%">3.3</span></div>
<div class="t" style="left:1872.00px;top:2434.34px;width:147.50px;text-align:center;font-size:34px;color:#383838;font-weight:400"><span style="transform:scaleX(0.86);transform-origin:50% 50%">6</span></div>
<div class="t" style="left:814.50px;top:2488.69px;width:142.50px;text-align:center;font-size:34px;color:#383838;font-weight:400"><span style="transform:scaleX(0.86);transform-origin:50% 50%">3</span></div>
<div class="t" style="left:984.00px;top:2488.69px;font-size:34px;color:#383838;font-weight:400"><span style="transform:scaleX(0.78);transform-origin:0 50%">5VER3ACME...</span></div>
<div class="t" style="left:1219.00px;top:2488.69px;font-size:34px;color:#383838;font-weight:400"><span style="transform:scaleX(0.78);transform-origin:0 50%">5VEL3ACME...</span></div>
<div class="t" style="left:1428.00px;top:2488.69px;width:148.00px;text-align:center;font-size:34px;color:#383838;font-weight:400"><span style="transform:scaleX(0.86);transform-origin:50% 50%">4.49</span></div>
<div class="t" style="left:1576.00px;top:2488.69px;width:148.00px;text-align:center;font-size:34px;color:#383838;font-weight:400"><span style="transform:scaleX(0.86);transform-origin:50% 50%">1.0</span></div>
<div class="t" style="left:1724.00px;top:2488.69px;width:148.00px;text-align:center;font-size:34px;color:#383838;font-weight:400"><span style="transform:scaleX(0.86);transform-origin:50% 50%">3.3</span></div>
<div class="t" style="left:1872.00px;top:2488.69px;width:147.50px;text-align:center;font-size:34px;color:#383838;font-weight:400"><span style="transform:scaleX(0.86);transform-origin:50% 50%">6</span></div>
<div class="t" style="left:814.50px;top:2543.04px;width:142.50px;text-align:center;font-size:34px;color:#383838;font-weight:400"><span style="transform:scaleX(0.86);transform-origin:50% 50%">2</span></div>
<div class="t" style="left:984.00px;top:2543.04px;font-size:34px;color:#383838;font-weight:400"><span style="transform:scaleX(0.78);transform-origin:0 50%">5VER2ACME...</span></div>
<div class="t" style="left:1219.00px;top:2543.04px;font-size:34px;color:#383838;font-weight:400"><span style="transform:scaleX(0.78);transform-origin:0 50%">5VEL2ACME...</span></div>
<div class="t" style="left:1428.00px;top:2543.04px;width:148.00px;text-align:center;font-size:34px;color:#383838;font-weight:400"><span style="transform:scaleX(0.86);transform-origin:50% 50%">6.60</span></div>
<div class="t" style="left:1576.00px;top:2543.04px;width:148.00px;text-align:center;font-size:34px;color:#383838;font-weight:400"><span style="transform:scaleX(0.86);transform-origin:50% 50%">1.0</span></div>
<div class="t" style="left:1724.00px;top:2543.04px;width:148.00px;text-align:center;font-size:34px;color:#383838;font-weight:400"><span style="transform:scaleX(0.86);transform-origin:50% 50%">5.2</span></div>
<div class="t" style="left:1872.00px;top:2543.04px;width:147.50px;text-align:center;font-size:34px;color:#383838;font-weight:400"><span style="transform:scaleX(0.86);transform-origin:50% 50%">10</span></div>
<div class="t" style="left:532.00px;top:2461.52px;width:142.00px;text-align:center;font-size:34px;color:#383838;font-weight:400"><span style="transform:scaleX(0.86);transform-origin:50% 50%">5/8″V</span></div>
<div class="t" style="left:674.00px;top:2461.52px;width:140.50px;text-align:center;font-size:34px;color:#383838;font-weight:400"><span style="transform:scaleX(0.86);transform-origin:50% 50%">27</span></div>
<div class="t" style="left:2063.50px;top:2434.34px;font-size:34px;color:#383838;font-weight:400"><span style="transform:scaleX(0.82);transform-origin:0 50%">NL..-5V-6 (LH)</span></div>
<div class="t" style="left:2063.50px;top:2543.04px;font-size:34px;color:#383838;font-weight:400"><span style="transform:scaleX(0.82);transform-origin:0 50%">NL..-5V-10 (LH)</span></div>
<div class="t" style="left:189.5px;top:2605.95px;font-size:50.5px;font-weight:700;color:#231f20;letter-spacing:0px"><span style="transform:scaleX(1.058);transform-origin:0 50%">On Edge</span></div>
<div style="position:absolute;left:177.00px;top:2661.00px;width:2090.00px;height:3.2px;background:#231f20"></div>
<div style="position:absolute;left:532.00px;top:2663.80px;width:1735.00px;height:52.85px;background:#b2b4c7"></div>
<div style="position:absolute;left:532.00px;top:2716.65px;width:1735.00px;height:54.35px;background:#e3e4e6"></div>
<div class="t" style="left:532.00px;top:2673.72px;width:282.50px;text-align:center;font-size:34px;color:#2b2b2b;font-weight:400"><span style="transform:scaleX(0.915);transform-origin:50% 50%">Insert Size</span></div>
<div class="t" style="left:814.50px;top:2673.72px;width:142.50px;text-align:center;font-size:34px;color:#2b2b2b;font-weight:400"><span style="transform:scaleX(0.915);transform-origin:50% 50%">Pitch</span></div>
<div class="t" style="left:957.00px;top:2673.72px;width:471.00px;text-align:center;font-size:34px;color:#2b2b2b;font-weight:400"><span style="transform:scaleX(0.915);transform-origin:50% 50%">Ordering Code</span></div>
<div class="t" style="left:1428.00px;top:2673.72px;width:671.00px;text-align:center;font-size:34px;color:#2b2b2b;font-weight:400"><span style="transform:scaleX(0.915);transform-origin:50% 50%">Dimensions mm</span></div>
<div class="t h2" style="left:532.00px;top:2728.07px;width:142.00px;text-align:center;font-size:34px;color:#1e1e1e;font-weight:400"><span style="transform:scaleX(0.95);transform-origin:50% 50%">IC</span></div>
<div class="t h2" style="left:674.00px;top:2728.07px;width:140.50px;text-align:center;font-size:34px;color:#1e1e1e;font-weight:400"><span style="transform:scaleX(0.95);transform-origin:50% 50%">L <i>mm</i></span></div>
<div class="t h2" style="left:814.50px;top:2728.07px;width:142.50px;text-align:center;font-size:34px;color:#1e1e1e;font-weight:400"><span style="transform:scaleX(0.95);transform-origin:50% 50%">TPI</span></div>
<div class="t h2" style="left:957.00px;top:2728.07px;width:471.00px;text-align:center;font-size:34px;color:#1e1e1e;font-weight:400"><span style="transform:scaleX(0.95);transform-origin:50% 50%">RH</span></div>
<div class="t h2" style="left:1428.00px;top:2728.07px;width:168.00px;text-align:center;font-size:34px;color:#1e1e1e;font-weight:400"><span style="transform:scaleX(0.95);transform-origin:50% 50%">h <i>min</i></span></div>
<div class="t h2" style="left:1596.00px;top:2728.07px;width:168.50px;text-align:center;font-size:34px;color:#1e1e1e;font-weight:400"><span style="transform:scaleX(0.95);transform-origin:50% 50%">T</span></div>
<div class="t h2" style="left:1764.50px;top:2728.07px;width:167.50px;text-align:center;font-size:34px;color:#1e1e1e;font-weight:400"><span style="transform:scaleX(0.95);transform-origin:50% 50%">Ø C</span></div>
<div class="t h2" style="left:1932.00px;top:2728.07px;width:167.00px;text-align:center;font-size:34px;color:#1e1e1e;font-weight:400"><span style="transform:scaleX(0.95);transform-origin:50% 50%">X</span></div>
<div class="t h2" style="left:2099.00px;top:2728.07px;width:168.00px;text-align:center;font-size:34px;color:#1e1e1e;font-weight:400"><span style="transform:scaleX(0.95);transform-origin:50% 50%">Y</span></div>
<div style="position:absolute;left:674.00px;top:2771.00px;width:140.50px;height:434.80px;background:#e3e4e6"></div>
<div style="position:absolute;left:1764.50px;top:2771.00px;width:167.50px;height:434.80px;background:#e3e4e6"></div>
<div style="position:absolute;left:2099.00px;top:2771.00px;width:168.00px;height:434.80px;background:#e3e4e6"></div>
<div style="position:absolute;left:957.00px;top:2771.00px;width:471.00px;height:54.35px;background:#cdd5e8"></div>
<div style="position:absolute;left:814.50px;top:2825.35px;width:142.50px;height:54.35px;background:#e3e4e6"></div>
<div style="position:absolute;left:1428.00px;top:2825.35px;width:168.00px;height:54.35px;background:#e3e4e6"></div>
<div style="position:absolute;left:957.00px;top:2825.35px;width:471.00px;height:54.35px;background:#b9c5d8"></div>
<div style="position:absolute;left:957.00px;top:2879.70px;width:471.00px;height:54.35px;background:#cdd5e8"></div>
<div style="position:absolute;left:814.50px;top:2934.05px;width:142.50px;height:54.35px;background:#e3e4e6"></div>
<div style="position:absolute;left:1428.00px;top:2934.05px;width:168.00px;height:54.35px;background:#e3e4e6"></div>
<div style="position:absolute;left:957.00px;top:2934.05px;width:471.00px;height:54.35px;background:#b9c5d8"></div>
<div style="position:absolute;left:957.00px;top:2988.40px;width:471.00px;height:54.35px;background:#cdd5e8"></div>
<div style="position:absolute;left:814.50px;top:3042.75px;width:142.50px;height:54.35px;background:#e3e4e6"></div>
<div style="position:absolute;left:1428.00px;top:3042.75px;width:168.00px;height:54.35px;background:#e3e4e6"></div>
<div style="position:absolute;left:957.00px;top:3042.75px;width:471.00px;height:54.35px;background:#b9c5d8"></div>
<div style="position:absolute;left:957.00px;top:3097.10px;width:471.00px;height:54.35px;background:#cdd5e8"></div>
<div style="position:absolute;left:814.50px;top:3151.45px;width:142.50px;height:54.35px;background:#e3e4e6"></div>
<div style="position:absolute;left:1428.00px;top:3151.45px;width:168.00px;height:54.35px;background:#e3e4e6"></div>
<div style="position:absolute;left:957.00px;top:3151.45px;width:471.00px;height:54.35px;background:#b9c5d8"></div>
<div style="position:absolute;left:532.00px;top:2716.00px;width:1735.00px;height:1.4px;background:#4a4a55"></div>
<div style="position:absolute;left:532.00px;top:2770.00px;width:1735.00px;height:1.6px;background:#3a3a3a"></div>
<div style="position:absolute;left:814.50px;top:2825.00px;width:781.50px;height:1.5px;background:#3c3c3c"></div>
<div style="position:absolute;left:814.50px;top:2879.00px;width:781.50px;height:1.5px;background:#3c3c3c"></div>
<div style="position:absolute;left:814.50px;top:2933.00px;width:781.50px;height:1.5px;background:#3c3c3c"></div>
<div style="position:absolute;left:814.50px;top:2988.00px;width:781.50px;height:1.5px;background:#3c3c3c"></div>
<div style="position:absolute;left:532.00px;top:3042.00px;width:1400.00px;height:1.5px;background:#3c3c3c"></div>
<div style="position:absolute;left:2099.00px;top:3042.00px;width:168.00px;height:1.5px;background:#3c3c3c"></div>
<div style="position:absolute;left:814.50px;top:3096.00px;width:781.50px;height:1.5px;background:#3c3c3c"></div>
<div style="position:absolute;left:532.00px;top:3151.00px;width:1400.00px;height:1.5px;background:#3c3c3c"></div>
<div style="position:absolute;left:2099.00px;top:3151.00px;width:168.00px;height:1.5px;background:#3c3c3c"></div>
<div style="position:absolute;left:532.00px;top:3205.00px;width:1400.00px;height:1.5px;background:#3c3c3c"></div>
<div style="position:absolute;left:2099.00px;top:3205.00px;width:168.00px;height:1.5px;background:#3c3c3c"></div>
<div class="t" style="left:814.50px;top:2782.99px;width:142.50px;text-align:center;font-size:34px;color:#383838;font-weight:400"><span style="transform:scaleX(0.86);transform-origin:50% 50%">12</span></div>
<div class="t" style="left:1060.00px;top:2782.99px;font-size:34px;color:#383838;font-weight:400"><span style="transform:scaleX(0.78);transform-origin:0 50%">TNEC43EI12ACME...</span></div>
<div class="t" style="left:1428.00px;top:2782.99px;width:168.00px;text-align:center;font-size:34px;color:#383838;font-weight:400"><span style="transform:scaleX(0.86);transform-origin:50% 50%">1.19</span></div>
<div class="t" style="left:814.50px;top:2837.34px;width:142.50px;text-align:center;font-size:34px;color:#383838;font-weight:400"><span style="transform:scaleX(0.86);transform-origin:50% 50%">10</span></div>
<div class="t" style="left:1060.00px;top:2837.34px;font-size:34px;color:#383838;font-weight:400"><span style="transform:scaleX(0.78);transform-origin:0 50%">TNEC43EI10ACME...</span></div>
<div class="t" style="left:1428.00px;top:2837.34px;width:168.00px;text-align:center;font-size:34px;color:#383838;font-weight:400"><span style="transform:scaleX(0.86);transform-origin:50% 50%">1.52</span></div>
<div class="t" style="left:814.50px;top:2891.69px;width:142.50px;text-align:center;font-size:34px;color:#383838;font-weight:400"><span style="transform:scaleX(0.86);transform-origin:50% 50%">8</span></div>
<div class="t" style="left:1060.00px;top:2891.69px;font-size:34px;color:#383838;font-weight:400"><span style="transform:scaleX(0.78);transform-origin:0 50%">TNEC43EI8ACME...</span></div>
<div class="t" style="left:1428.00px;top:2891.69px;width:168.00px;text-align:center;font-size:34px;color:#383838;font-weight:400"><span style="transform:scaleX(0.86);transform-origin:50% 50%">1.83</span></div>
<div class="t" style="left:814.50px;top:2946.04px;width:142.50px;text-align:center;font-size:34px;color:#383838;font-weight:400"><span style="transform:scaleX(0.86);transform-origin:50% 50%">6</span></div>
<div class="t" style="left:1060.00px;top:2946.04px;font-size:34px;color:#383838;font-weight:400"><span style="transform:scaleX(0.78);transform-origin:0 50%">TNEC43EI6ACME...</span></div>
<div class="t" style="left:1428.00px;top:2946.04px;width:168.00px;text-align:center;font-size:34px;color:#383838;font-weight:400"><span style="transform:scaleX(0.86);transform-origin:50% 50%">2.36</span></div>
<div class="t" style="left:814.50px;top:3000.39px;width:142.50px;text-align:center;font-size:34px;color:#383838;font-weight:400"><span style="transform:scaleX(0.86);transform-origin:50% 50%">4</span></div>
<div class="t" style="left:1060.00px;top:3000.39px;font-size:34px;color:#383838;font-weight:400"><span style="transform:scaleX(0.78);transform-origin:0 50%">TNEC43EI4ACME...</span></div>
<div class="t" style="left:1428.00px;top:3000.39px;width:168.00px;text-align:center;font-size:34px;color:#383838;font-weight:400"><span style="transform:scaleX(0.86);transform-origin:50% 50%">3.43</span></div>
<div class="t" style="left:814.50px;top:3054.74px;width:142.50px;text-align:center;font-size:34px;color:#383838;font-weight:400"><span style="transform:scaleX(0.86);transform-origin:50% 50%">4</span></div>
<div class="t" style="left:1060.00px;top:3054.74px;font-size:34px;color:#383838;font-weight:400"><span style="transform:scaleX(0.78);transform-origin:0 50%">TNEC54EI4ACME...</span></div>
<div class="t" style="left:1428.00px;top:3054.74px;width:168.00px;text-align:center;font-size:34px;color:#383838;font-weight:400"><span style="transform:scaleX(0.86);transform-origin:50% 50%">3.43</span></div>
<div class="t" style="left:814.50px;top:3109.09px;width:142.50px;text-align:center;font-size:34px;color:#383838;font-weight:400"><span style="transform:scaleX(0.86);transform-origin:50% 50%">3</span></div>
<div class="t" style="left:1060.00px;top:3109.09px;font-size:34px;color:#383838;font-weight:400"><span style="transform:scaleX(0.78);transform-origin:0 50%">TNEC54EI3ACME...</span></div>
<div class="t" style="left:1428.00px;top:3109.09px;width:168.00px;text-align:center;font-size:34px;color:#383838;font-weight:400"><span style="transform:scaleX(0.86);transform-origin:50% 50%">4.50</span></div>
<div class="t" style="left:814.50px;top:3163.44px;width:142.50px;text-align:center;font-size:34px;color:#383838;font-weight:400"><span style="transform:scaleX(0.86);transform-origin:50% 50%">2</span></div>
<div class="t" style="left:1060.00px;top:3163.44px;font-size:34px;color:#383838;font-weight:400"><span style="transform:scaleX(0.78);transform-origin:0 50%">TNEC56EI2ACME...</span></div>
<div class="t" style="left:1428.00px;top:3163.44px;width:168.00px;text-align:center;font-size:34px;color:#383838;font-weight:400"><span style="transform:scaleX(0.86);transform-origin:50% 50%">6.60</span></div>
<div class="t" style="left:532.00px;top:2891.69px;width:142.00px;text-align:center;font-size:34px;color:#383838;font-weight:400"><span style="transform:scaleX(0.86);transform-origin:50% 50%">1/2″</span></div>
<div class="t" style="left:674.00px;top:2891.69px;width:140.50px;text-align:center;font-size:34px;color:#383838;font-weight:400"><span style="transform:scaleX(0.86);transform-origin:50% 50%">22</span></div>
<div class="t" style="left:1596.00px;top:2891.69px;width:168.50px;text-align:center;font-size:34px;color:#383838;font-weight:400"><span style="transform:scaleX(0.86);transform-origin:50% 50%">4.76</span></div>
<div class="t" style="left:1764.50px;top:2891.69px;width:167.50px;text-align:center;font-size:34px;color:#383838;font-weight:400"><span style="transform:scaleX(0.86);transform-origin:50% 50%">5.2</span></div>
<div class="t" style="left:2099.00px;top:2891.69px;width:168.00px;text-align:center;font-size:34px;color:#383838;font-weight:400"><span style="transform:scaleX(0.86);transform-origin:50% 50%">2.4</span></div>
<div class="t" style="left:532.00px;top:3081.92px;width:142.00px;text-align:center;font-size:34px;color:#383838;font-weight:400"><span style="transform:scaleX(0.86);transform-origin:50% 50%">5/8″</span></div>
<div class="t" style="left:674.00px;top:3081.92px;width:140.50px;text-align:center;font-size:34px;color:#383838;font-weight:400"><span style="transform:scaleX(0.86);transform-origin:50% 50%">27</span></div>
<div class="t" style="left:1596.00px;top:3081.92px;width:168.50px;text-align:center;font-size:34px;color:#383838;font-weight:400"><span style="transform:scaleX(0.86);transform-origin:50% 50%">6.35</span></div>
<div class="t" style="left:1764.50px;top:3081.92px;width:167.50px;text-align:center;font-size:34px;color:#383838;font-weight:400"><span style="transform:scaleX(0.86);transform-origin:50% 50%">6.5</span></div>
<div class="t" style="left:2099.00px;top:3081.92px;width:168.00px;text-align:center;font-size:34px;color:#383838;font-weight:400"><span style="transform:scaleX(0.86);transform-origin:50% 50%">3.2</span></div>
<div class="t" style="left:532.00px;top:3163.44px;width:142.00px;text-align:center;font-size:34px;color:#383838;font-weight:400"><span style="transform:scaleX(0.86);transform-origin:50% 50%">3/4″</span></div>
<div class="t" style="left:674.00px;top:3163.44px;width:140.50px;text-align:center;font-size:34px;color:#383838;font-weight:400"><span style="transform:scaleX(0.86);transform-origin:50% 50%">32</span></div>
<div class="t" style="left:1596.00px;top:3163.44px;width:168.50px;text-align:center;font-size:34px;color:#383838;font-weight:400"><span style="transform:scaleX(0.86);transform-origin:50% 50%">9.53</span></div>
<div class="t" style="left:1764.50px;top:3163.44px;width:167.50px;text-align:center;font-size:34px;color:#383838;font-weight:400"><span style="transform:scaleX(0.86);transform-origin:50% 50%">8.0</span></div>
<div class="t" style="left:2099.00px;top:3163.44px;width:168.00px;text-align:center;font-size:34px;color:#383838;font-weight:400"><span style="transform:scaleX(0.86);transform-origin:50% 50%">4.8</span></div>
<div class="t" style="left:1932.00px;top:2973.22px;width:167.00px;text-align:center;font-size:34px;color:#383838;font-weight:400"><span style="transform:scaleX(0.86);transform-origin:50% 50%">0.5</span></div>
<div class="t" style="left:534.00px;top:3228.53px;font-size:29.5px;color:#3a3a3a;font-weight:400"><span style="transform:scaleX(0.927);transform-origin:0 50%">On Edge inserts are suited to existing toolholders on the market.</span></div>
<div style="position:absolute;left:178.00px;top:3326.00px;width:1.60px;height:52.00px;background:#555"></div>
<div style="position:absolute;left:326.50px;top:3326.00px;width:1.60px;height:52.00px;background:#555"></div>
<div class="t" style="left:224px;top:3333.53px;font-size:36px;font-weight:700;color:#231f20"><span style="transform:scaleX(0.98);transform-origin:0 50%">102</span></div>
<svg style="position:absolute;left:340px;top:3325px" width="300" height="50" viewBox="340 3325 300 50">
<text x="347.5" y="3364" font-family="Liberation Sans, Arial, sans-serif" font-weight="700" font-size="41.5" fill="#e0232e" textLength="273" lengthAdjust="spacingAndGlyphs">VARDEX</text>
</svg>
<div style="position:absolute;left:662.00px;top:3350.00px;width:1818.00px;height:1.3px;background:#7a7a7a"></div>
<svg style="position:absolute;left:0;top:0" width="700" height="3508" viewBox="0 0 700 3508">
<defs>
<linearGradient id="gTop" x1="0" y1="0" x2="1" y2="1"><stop offset="0" stop-color="#f6c25c"/><stop offset="1" stop-color="#efb24a"/></linearGradient>
<linearGradient id="gSide" x1="0" y1="0" x2="0" y2="1"><stop offset="0" stop-color="#c9952f"/><stop offset="1" stop-color="#b3822a"/></linearGradient>
<radialGradient id="gHole" cx="0.5" cy="0.3" r="0.7"><stop offset="0" stop-color="#f8eb85"/><stop offset="0.6" stop-color="#f1c65a"/><stop offset="1" stop-color="#c99432"/></radialGradient>
<linearGradient id="gF" x1="0" y1="0" x2="1" y2="1"><stop offset="0" stop-color="#d9a927"/><stop offset="1" stop-color="#c89a22"/></linearGradient>
<linearGradient id="gFs" x1="0" y1="0" x2="0" y2="1"><stop offset="0" stop-color="#b98c1c"/><stop offset="1" stop-color="#a67a16"/></linearGradient>
<radialGradient id="gFh" cx="0.5" cy="0.3" r="0.7"><stop offset="0" stop-color="#e5bb3c"/><stop offset="1" stop-color="#b88a1c"/></radialGradient>
<linearGradient id="gV" x1="0" y1="0" x2="1" y2="1"><stop offset="0" stop-color="#f7cf6a"/><stop offset="1" stop-color="#f0bd55"/></linearGradient>
<linearGradient id="gVs" x1="0" y1="0" x2="1" y2="1"><stop offset="0" stop-color="#dcb04a"/><stop offset="1" stop-color="#c89b3a"/></linearGradient>
<radialGradient id="gVh" cx="0.6" cy="0.6" r="0.6"><stop offset="0" stop-color="#fbf0a0"/><stop offset="1" stop-color="#e8c050"/></radialGradient>
<linearGradient id="gE" x1="0" y1="0" x2="1" y2="1"><stop offset="0" stop-color="#f0b927"/><stop offset="1" stop-color="#dca01c"/></linearGradient>
<linearGradient id="gEs" x1="0" y1="0" x2="1" y2="1"><stop offset="0" stop-color="#e0a11d"/><stop offset="1" stop-color="#a86c10"/></linearGradient>
<linearGradient id="gEt" x1="0" y1="0" x2="1" y2="0"><stop offset="0" stop-color="#f2c236"/><stop offset="1" stop-color="#e9b42a"/></linearGradient>
<radialGradient id="gEh" cx="0.45" cy="0.45" r="0.6"><stop offset="0" stop-color="#ffe27a"/><stop offset="0.5" stop-color="#d49522"/><stop offset="1" stop-color="#a86a12"/></radialGradient>
</defs>
<g transform="translate(220,1240) scale(0.154036)">
<polygon points="140,190 215,165 335,270 445,240 440,175 590,200 850,150 1160,150 1290,215 1455,230 1460,510 1350,535 1350,690 1270,740 1270,790 960,990 945,1170 700,1265 690,1090 600,1090 580,960 500,900 490,870 180,580 145,530" fill="url(#gSide)"/>
<polygon points="140,190 215,165 335,270 445,240 440,175 590,200 850,150 1160,150 1290,215 1455,230 1445,300 1290,360 1290,445 1345,455 950,900 720,930 700,990 585,870 490,820 380,640 160,430" fill="url(#gTop)"/>
<polygon points="140,190 215,165 300,255 200,400 160,430" fill="#e2a845"/>
<polygon points="1160,150 1290,215 1290,445 1200,650 1150,600" fill="#e6ac48"/>
<polygon points="370,615 450,640 960,860 950,900 720,930 600,870 490,820" fill="#f6d86a"/>
<polygon points="215,420 850,160 870,175 230,440" fill="#9a6c1e" opacity="0.6"/>
<ellipse cx="785" cy="480" rx="272" ry="200" fill="url(#gHole)"/>
<ellipse cx="790" cy="625" rx="145" ry="55" fill="#fff"/>
</g>
<g transform="translate(200,1540) scale(0.154036)">
<polygon points="130,220 245,175 330,235 470,320 540,300 560,190 820,205 840,225 1100,165 1165,200 1500,215 1515,240 1510,555 1370,600 1360,770 1250,880 1125,890 1130,1010 1050,1190 820,1390 700,1340 690,1180 600,1110 520,1040 440,980 390,800 300,790 230,700 170,520" fill="url(#gFs)"/>
<polygon points="130,220 245,175 330,235 470,320 540,300 560,190 820,205 840,225 1100,165 1165,200 1500,215 1515,240 1290,390 1280,490 1365,510 1120,680 1110,830 700,720 400,690 440,580 290,480 180,450" fill="url(#gF)"/>
<polygon points="390,690 700,720 1110,830 1120,1000 1050,1190 820,1390 700,1340 690,1060 600,1110 520,1040 440,980" fill="#c99e27"/>
<polygon points="690,1060 820,1130 820,1390 700,1340" fill="#b08518"/>
<polygon points="600,825 720,830 720,1040 690,1055 600,1110" fill="#a27815"/>
<polygon points="390,690 600,700 600,1110 520,1040 440,980" fill="#d2a52c"/>
<polygon points="1110,200 1160,180 1200,680 1150,690" fill="#e4be47"/>
<polygon points="1290,390 1500,240 1510,555 1370,600 1290,490" fill="#c3961f"/>
<ellipse cx="830" cy="440" rx="300" ry="175" fill="url(#gFh)"/>
<ellipse cx="810" cy="600" rx="200" ry="72" fill="#fff"/>
</g>
<text x="284.5" y="1817.3" font-family="Liberation Sans, Arial, sans-serif" font-weight="700" font-size="36.5" fill="#e3202b">F</text>
<polygon points="306,1800 313,1805 306,1810" fill="#6d6e71"/>
<text x="310.5" y="1817.3" font-family="Liberation Sans, Arial, sans-serif" font-weight="700" font-size="36.5" fill="#6d6e71" textLength="83.5" lengthAdjust="spacingAndGlyphs">LINE</text>
<g transform="translate(220,1970) scale(0.154036)">
<polygon points="105,215 165,140 440,225 500,180 620,120 1000,120 1120,165 1200,210 1460,130 1525,200 1515,420 1380,505 1375,605 1070,1000 960,1040 945,1190 830,1260 765,1240 690,1040 640,1040 275,640 270,450 180,505 105,470" fill="url(#gSide)"/>
<polygon points="105,215 165,140 440,225 500,180 620,120 1000,120 1120,165 1200,210 1460,130 1525,200 1360,395 1370,450 1290,470 1110,700 1090,810 960,830 940,900 820,1000 700,910 690,830 540,810 520,700 340,470 270,450 105,250" fill="url(#gTop)"/>
<polygon points="540,700 1110,700 1090,810 960,830 560,800" fill="#f6dd6c"/>
<polygon points="330,470 600,140 620,120 350,480" fill="#6a4a14" opacity="0.7"/>
<polygon points="1010,125 1360,455 1345,465 995,135" fill="#6a4a14" opacity="0.7"/>
<polygon points="700,830 960,830 940,900 820,1000 700,910" fill="#e9b64c"/>
<ellipse cx="820" cy="425" rx="275" ry="195" fill="url(#gHole)"/>
<ellipse cx="815" cy="590" rx="120" ry="40" fill="#fff"/>
</g>
<g transform="translate(220,2320) scale(0.154036)">
<polygon points="115,590 250,520 250,490 330,455 370,400 820,225 850,230 1380,90 1470,100 1475,420 1480,440 1470,540 1490,570 1260,1290 1060,1640 1040,1650 900,1400 650,1280 540,1060 350,950 250,780 130,680" fill="url(#gVs)"/>
<polygon points="115,590 250,520 330,455 375,400 820,225 1380,90 1470,100 1450,400 1030,320 600,500 540,590" fill="#edc05a"/>
<polygon points="540,590 600,500 1030,320 1475,420 1490,570 1260,1290 1050,1440 1000,1390 860,1370 590,1060" fill="url(#gV)"/>
<polygon points="330,455 375,400 600,500 560,590 300,500" fill="#f8e27a"/>
<polygon points="115,590 460,590 580,1060 540,1060 350,950 250,780 130,680" fill="#e3b650"/>
<polygon points="1030,320 1450,400 1450,410 1030,330" fill="#7a5a1a" opacity="0.6"/>
<ellipse cx="1000" cy="825" rx="258" ry="290" fill="url(#gVh)"/>
<ellipse cx="840" cy="760" rx="95" ry="170" fill="#fff"/>
</g>
<g transform="translate(230,2800) scale(0.154036)">
<polygon points="100,340 990,90 1160,140 1290,95 1480,160 1500,270 1515,285 780,1645 650,1530 500,1400 420,1200 200,800 150,610 105,470" fill="url(#gEs)"/>
<polygon points="100,340 990,90 1160,140 1290,95 1480,160 1500,270 1480,290 385,500 170,460 100,350" fill="url(#gEt)"/>
<polygon points="385,500 1515,285 780,1645 600,1150 420,950" fill="url(#gE)"/>
<polygon points="100,350 170,460 385,500 420,950 600,1150 780,1645 650,1530 500,1400 420,1200 200,800 150,610" fill="#c28516"/>
<polygon points="170,460 385,500 420,950 240,780 180,620" fill="#e9b126"/>
<ellipse cx="935" cy="835" rx="245" ry="335" transform="rotate(20 935 835)" fill="url(#gEh)"/>
<ellipse cx="840" cy="730" rx="105" ry="200" transform="rotate(22 840 730)" fill="#fff"/>
</g>
</svg>
</div></body></html>
